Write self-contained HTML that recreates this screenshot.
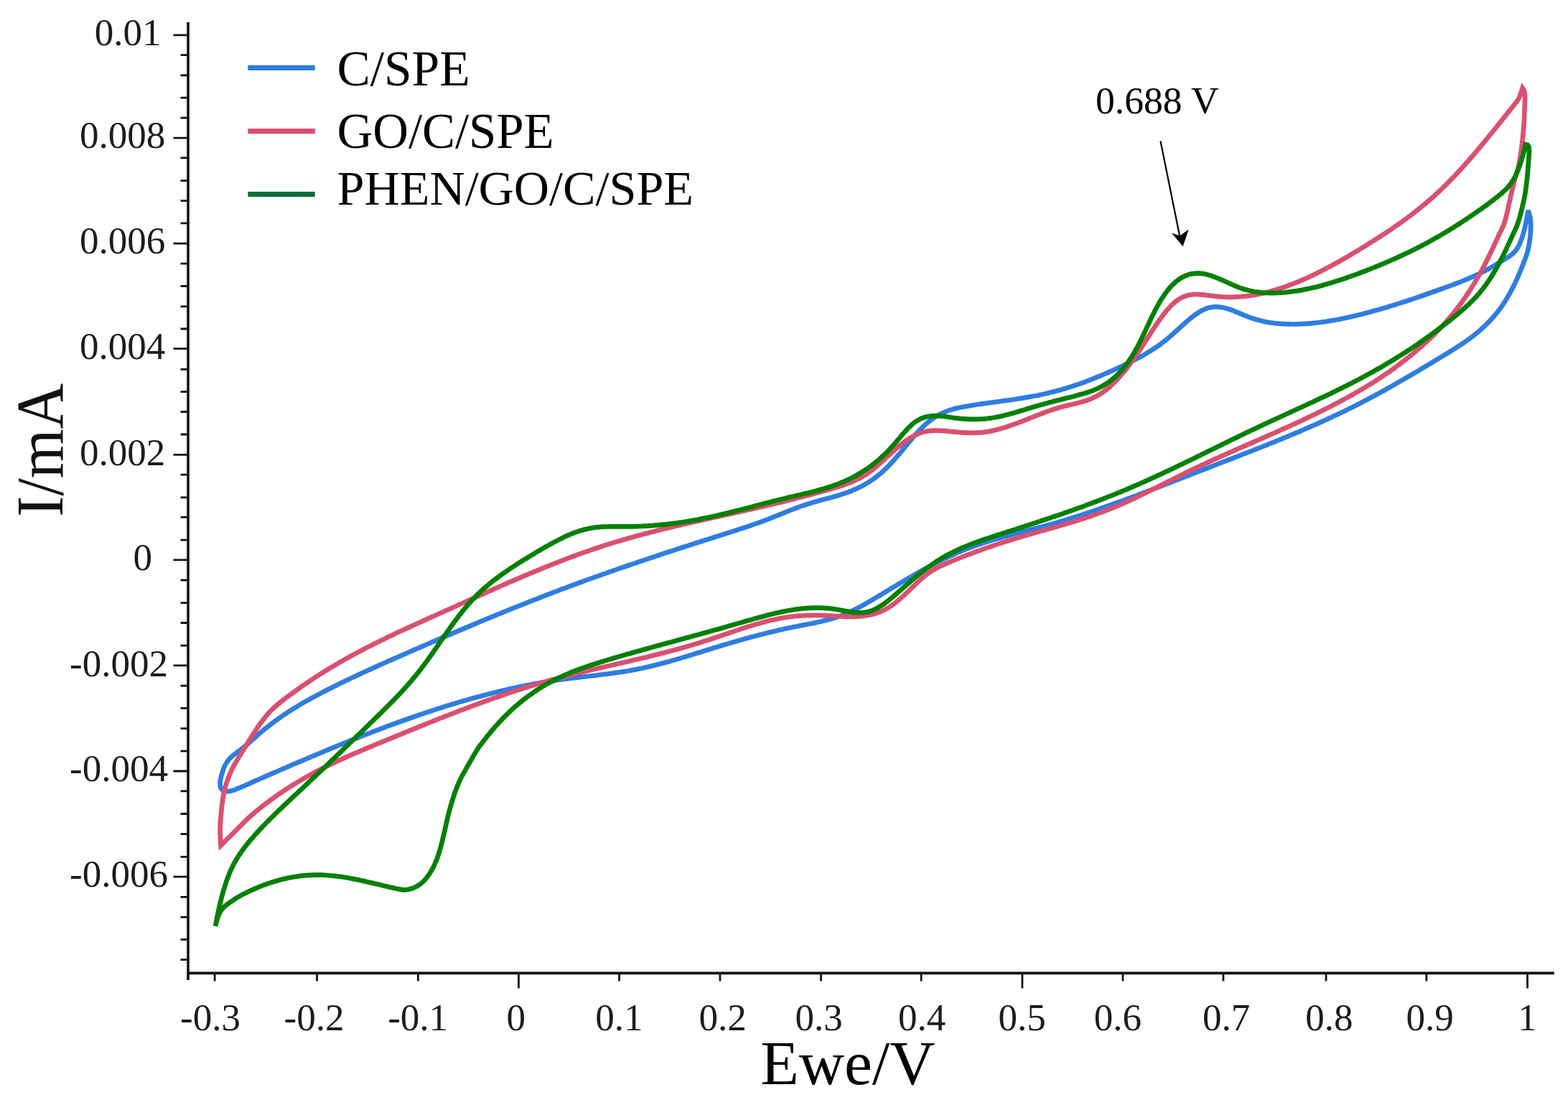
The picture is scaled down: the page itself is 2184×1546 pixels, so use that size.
<!DOCTYPE html>
<html lang="en">
<head>
<meta charset="utf-8">
<title>Cyclic voltammograms: C/SPE, GO/C/SPE, PHEN/GO/C/SPE</title>
<style>
html,body{margin:0;padding:0;background:#fff;}
body{width:2184px;height:1546px;overflow:hidden;}
svg{display:block;filter:blur(0.7px);}
</style>
</head>
<body>
<svg xmlns="http://www.w3.org/2000/svg" width="2184" height="1546" viewBox="0 0 2184 1546">
<rect width="2184" height="1546" fill="#ffffff"/>
<path d="M2129.2,295.6L2130.1,298.5L2130.9,301.4L2131.5,304.3L2131.8,307.3L2132.1,310.3L2132.2,313.3L2132.1,316.3L2132.0,319.3L2131.9,322.3L2131.7,325.3L2131.4,328.2L2131.1,331.2L2130.7,334.2L2130.3,337.2L2129.8,340.1L2129.3,343.1L2128.7,346.0L2128.1,349.0L2127.3,351.8L2126.4,354.7L2125.4,357.5L2124.4,360.4L2123.3,363.2L2122.2,366.0L2121.2,368.8L2120.1,371.6L2118.9,374.3L2117.8,377.1L2116.7,379.9L2115.5,382.6L2114.3,385.4L2113.1,388.1L2111.8,390.9L2110.6,393.6L2109.3,396.3L2107.9,399.0L2106.6,401.7L2105.2,404.3L2103.8,407.0L2102.3,409.6L2100.8,412.2L2099.3,414.8L2097.8,417.3L2096.2,419.9L2094.5,422.4L2092.9,424.9L2091.2,427.4L2089.4,429.8L2087.6,432.2L2085.8,434.6L2083.9,436.9L2082.0,439.2L2080.0,441.5L2078.0,443.7L2076.0,445.9L2073.9,448.1L2071.8,450.3L2069.7,452.4L2067.5,454.4L2065.3,456.5L2063.1,458.5L2060.9,460.5L2058.6,462.4L2056.3,464.3L2053.9,466.2L2051.6,468.1L2049.2,469.9L2046.8,471.7L2044.3,473.4L2041.9,475.2L2039.4,476.9L2036.9,478.6L2034.4,480.2L2031.9,481.9L2029.4,483.5L2026.9,485.1L2024.4,486.7L2021.8,488.3L2019.3,489.9L2016.7,491.5L2014.1,493.0L2011.6,494.6L2009.0,496.2L2006.5,497.7L2003.9,499.3L2001.3,500.8L1998.8,502.4L1996.2,503.9L1993.6,505.5L1991.0,507.0L1988.5,508.6L1985.9,510.1L1983.3,511.7L1980.8,513.2L1978.2,514.7L1975.6,516.3L1973.0,517.8L1970.4,519.3L1967.9,520.9L1965.3,522.4L1962.7,523.9L1960.1,525.4L1957.5,526.9L1954.9,528.4L1952.3,529.9L1949.7,531.4L1947.1,532.9L1944.5,534.4L1941.9,535.9L1939.3,537.4L1936.7,538.9L1934.1,540.3L1931.4,541.8L1928.8,543.3L1926.2,544.7L1923.6,546.2L1920.9,547.6L1918.3,549.0L1915.7,550.5L1913.0,551.9L1910.4,553.3L1907.7,554.7L1905.1,556.1L1902.4,557.5L1899.8,558.9L1897.1,560.3L1894.4,561.7L1891.8,563.0L1889.1,564.4L1886.4,565.7L1883.7,567.1L1881.0,568.4L1878.3,569.7L1875.6,571.1L1872.9,572.4L1870.2,573.7L1867.5,575.0L1864.8,576.3L1862.1,577.6L1859.4,578.8L1856.7,580.1L1854.0,581.4L1851.3,582.6L1848.5,583.9L1845.8,585.2L1843.1,586.4L1840.3,587.6L1837.6,588.9L1834.9,590.1L1832.1,591.3L1829.4,592.5L1826.6,593.7L1823.9,594.9L1821.1,596.1L1818.4,597.3L1815.6,598.5L1812.9,599.7L1810.1,600.9L1807.3,602.1L1804.6,603.2L1801.8,604.4L1799.1,605.5L1796.3,606.7L1793.5,607.8L1790.7,609.0L1788.0,610.1L1785.2,611.3L1782.4,612.4L1779.6,613.5L1776.9,614.7L1774.1,615.8L1771.3,616.9L1768.5,618.0L1765.7,619.2L1762.9,620.3L1760.1,621.4L1757.4,622.5L1754.6,623.6L1751.8,624.7L1749.0,625.8L1746.2,626.9L1743.4,628.0L1740.6,629.1L1737.8,630.2L1735.0,631.3L1732.2,632.4L1729.4,633.4L1726.6,634.5L1723.8,635.6L1721.0,636.7L1718.2,637.8L1715.4,638.9L1712.6,640.0L1709.8,641.0L1707.0,642.1L1704.2,643.2L1701.4,644.3L1698.6,645.4L1695.8,646.4L1693.0,647.5L1690.3,648.6L1687.5,649.7L1684.7,650.8L1681.9,651.9L1679.1,653.0L1676.3,654.0L1673.5,655.1L1670.7,656.2L1667.9,657.3L1665.1,658.4L1662.3,659.5L1659.5,660.6L1656.7,661.7L1653.9,662.8L1651.1,663.9L1648.3,664.9L1645.5,666.0L1642.7,667.1L1639.9,668.2L1637.1,669.3L1634.3,670.4L1631.5,671.5L1628.7,672.6L1625.9,673.7L1623.1,674.7L1620.3,675.8L1617.6,676.9L1614.8,678.0L1612.0,679.1L1609.2,680.2L1606.4,681.2L1603.6,682.3L1600.7,683.4L1597.9,684.4L1595.1,685.5L1592.3,686.6L1589.5,687.6L1586.7,688.7L1583.9,689.8L1581.1,690.8L1578.3,691.9L1575.5,692.9L1572.7,694.0L1569.9,695.0L1567.0,696.1L1564.2,697.1L1561.4,698.1L1558.6,699.1L1555.8,700.2L1553.0,701.2L1550.1,702.2L1547.3,703.2L1544.5,704.2L1541.7,705.2L1538.8,706.2L1536.0,707.2L1533.2,708.2L1530.3,709.2L1527.5,710.2L1524.6,711.1L1521.8,712.1L1519.0,713.1L1516.1,714.0L1513.3,715.0L1510.4,715.9L1507.6,716.8L1504.7,717.8L1501.9,718.7L1499.0,719.6L1496.1,720.5L1493.3,721.4L1490.4,722.3L1487.6,723.2L1484.7,724.1L1481.8,725.0L1478.9,725.8L1476.1,726.7L1473.2,727.5L1470.3,728.4L1467.4,729.2L1464.5,730.0L1461.7,730.8L1458.8,731.6L1455.9,732.4L1453.0,733.2L1450.1,734.0L1447.2,734.8L1444.3,735.6L1441.4,736.3L1438.5,737.1L1435.6,737.8L1432.7,738.6L1429.8,739.3L1426.9,740.1L1423.9,740.8L1421.0,741.6L1418.1,742.3L1415.2,743.1L1412.3,743.9L1409.4,744.6L1406.5,745.4L1403.6,746.2L1400.7,747.0L1397.8,747.7L1395.0,748.6L1392.1,749.4L1389.2,750.2L1386.3,751.0L1383.4,751.9L1380.5,752.7L1377.7,753.6L1374.8,754.5L1372.0,755.4L1369.1,756.3L1366.3,757.3L1363.4,758.3L1360.6,759.2L1357.7,760.2L1354.9,761.3L1352.1,762.3L1349.3,763.4L1346.5,764.4L1343.7,765.5L1340.9,766.7L1338.2,767.8L1335.4,769.0L1332.6,770.2L1329.9,771.4L1327.2,772.6L1324.4,773.9L1321.7,775.1L1319.0,776.4L1316.3,777.7L1313.6,779.1L1310.9,780.4L1308.2,781.7L1305.6,783.1L1302.9,784.5L1300.2,785.9L1297.6,787.3L1294.9,788.7L1292.3,790.1L1289.7,791.5L1287.0,793.0L1284.4,794.4L1281.8,795.9L1279.2,797.4L1276.6,798.9L1274.0,800.3L1271.4,801.8L1268.8,803.3L1266.2,804.9L1263.6,806.4L1261.0,807.9L1258.4,809.4L1255.8,810.9L1253.3,812.5L1250.7,814.0L1248.1,815.6L1245.5,817.1L1243.0,818.6L1240.4,820.2L1237.8,821.7L1235.3,823.3L1232.7,824.8L1230.1,826.4L1227.6,828.0L1225.0,829.5L1222.4,831.1L1219.8,832.6L1217.3,834.1L1214.7,835.7L1212.1,837.2L1209.5,838.7L1206.9,840.2L1204.3,841.7L1201.7,843.1L1199.0,844.6L1196.4,846.0L1193.7,847.4L1191.1,848.7L1188.4,850.1L1185.7,851.4L1183.0,852.6L1180.2,853.9L1177.5,855.0L1174.7,856.2L1171.9,857.3L1169.1,858.3L1166.2,859.3L1163.4,860.2L1160.5,861.1L1157.7,862.0L1154.8,862.8L1151.9,863.6L1149.0,864.3L1146.0,865.0L1143.1,865.7L1140.2,866.3L1137.3,867.0L1134.3,867.6L1131.4,868.2L1128.4,868.7L1125.5,869.3L1122.5,869.9L1119.6,870.4L1116.6,871.0L1113.7,871.6L1110.8,872.2L1107.8,872.7L1104.9,873.3L1101.9,873.9L1099.0,874.6L1096.1,875.2L1093.1,875.8L1090.2,876.5L1087.3,877.1L1084.3,877.8L1081.4,878.5L1078.5,879.2L1075.6,879.9L1072.7,880.6L1069.8,881.3L1066.8,882.0L1063.9,882.7L1061.0,883.5L1058.1,884.2L1055.2,885.0L1052.3,885.7L1049.4,886.5L1046.5,887.3L1043.6,888.1L1040.7,888.9L1037.8,889.6L1034.9,890.5L1032.0,891.3L1029.2,892.1L1026.3,892.9L1023.4,893.7L1020.5,894.6L1017.6,895.4L1014.8,896.3L1011.9,897.1L1009.0,898.0L1006.1,898.8L1003.3,899.7L1000.4,900.6L997.5,901.5L994.6,902.3L991.8,903.2L988.9,904.1L986.0,905.0L983.2,905.9L980.3,906.8L977.5,907.7L974.6,908.6L971.7,909.4L968.9,910.3L966.0,911.2L963.1,912.1L960.3,913.0L957.4,913.9L954.5,914.7L951.6,915.6L948.8,916.4L945.9,917.3L943.0,918.1L940.1,919.0L937.2,919.8L934.4,920.6L931.5,921.4L928.6,922.2L925.7,923.0L922.8,923.8L919.9,924.6L917.0,925.3L914.1,926.1L911.2,926.8L908.2,927.5L905.3,928.2L902.4,928.9L899.5,929.5L896.5,930.2L893.6,930.8L890.7,931.4L887.7,932.0L884.8,932.6L881.8,933.1L878.9,933.6L875.9,934.2L873.0,934.7L870.0,935.1L867.0,935.6L864.1,936.1L861.1,936.5L858.1,936.9L855.2,937.4L852.2,937.8L849.2,938.2L846.2,938.6L843.3,938.9L840.3,939.3L837.3,939.7L834.3,940.0L831.4,940.4L828.4,940.8L825.4,941.1L822.4,941.5L819.4,941.8L816.5,942.2L813.5,942.5L810.5,942.9L807.5,943.2L804.5,943.6L801.6,943.9L798.6,944.3L795.6,944.7L792.6,945.0L789.6,945.4L786.7,945.8L783.7,946.2L780.7,946.6L777.8,947.0L774.8,947.5L771.8,947.9L768.9,948.4L765.9,948.8L762.9,949.3L760.0,949.8L757.0,950.3L754.0,950.8L751.1,951.3L748.1,951.8L745.2,952.4L742.2,952.9L739.3,953.5L736.3,954.1L733.4,954.6L730.5,955.2L727.5,955.8L724.6,956.4L721.6,957.0L718.7,957.7L715.8,958.3L712.8,958.9L709.9,959.6L707.0,960.3L704.1,960.9L701.1,961.6L698.2,962.3L695.3,963.0L692.4,963.7L689.5,964.4L686.6,965.1L683.7,965.9L680.7,966.6L677.8,967.4L674.9,968.1L672.0,968.9L669.1,969.7L666.2,970.4L663.3,971.2L660.4,972.0L657.6,972.8L654.7,973.6L651.8,974.4L648.9,975.3L646.0,976.1L643.1,976.9L640.3,977.8L637.4,978.6L634.5,979.5L631.6,980.4L628.8,981.2L625.9,982.1L623.0,983.0L620.2,983.9L617.3,984.8L614.4,985.7L611.6,986.6L608.7,987.5L605.9,988.4L603.0,989.4L600.2,990.3L597.3,991.3L594.5,992.2L591.6,993.2L588.8,994.1L585.9,995.1L583.1,996.0L580.3,997.0L577.4,998.0L574.6,999.0L571.8,1000.0L568.9,1001.0L566.1,1002.0L563.3,1003.0L560.4,1004.0L557.6,1005.0L554.8,1006.0L552.0,1007.0L549.2,1008.1L546.3,1009.1L543.5,1010.1L540.7,1011.2L537.9,1012.2L535.1,1013.3L532.3,1014.3L529.5,1015.4L526.7,1016.5L523.9,1017.5L521.1,1018.6L518.3,1019.7L515.5,1020.8L512.7,1021.8L509.9,1022.9L507.1,1024.0L504.3,1025.1L501.5,1026.2L498.7,1027.3L495.9,1028.4L493.1,1029.5L490.3,1030.6L487.5,1031.7L484.8,1032.9L482.0,1034.0L479.2,1035.1L476.4,1036.2L473.6,1037.4L470.8,1038.5L468.1,1039.6L465.3,1040.8L462.5,1041.9L459.7,1043.1L457.0,1044.2L454.2,1045.4L451.4,1046.5L448.7,1047.7L445.9,1048.8L443.1,1050.0L440.4,1051.1L437.6,1052.3L434.8,1053.5L432.1,1054.6L429.3,1055.8L426.5,1057.0L423.8,1058.1L421.0,1059.3L418.3,1060.5L415.5,1061.7L412.7,1062.8L410.0,1064.0L407.2,1065.2L404.5,1066.4L401.7,1067.6L399.0,1068.8L396.2,1070.0L393.4,1071.2L390.7,1072.3L387.9,1073.5L385.2,1074.7L382.4,1075.9L379.7,1077.1L376.9,1078.3L374.2,1079.5L371.4,1080.7L368.7,1081.9L365.9,1083.1L363.2,1084.3L360.4,1085.5L357.7,1086.7L354.9,1087.9L352.2,1089.1L349.4,1090.4L346.7,1091.6L343.9,1092.8L341.2,1094.0L338.5,1095.2L335.7,1096.4L332.9,1097.6L330.2,1098.7L327.4,1099.8L324.5,1100.8L321.7,1101.6L318.8,1102.2L315.9,1102.4L313.1,1102.1L310.6,1100.9L308.7,1099.1L307.4,1096.7L306.7,1093.9L306.5,1091.0L306.7,1088.0L307.2,1085.1L307.9,1082.2L308.6,1079.3L309.5,1076.4L310.4,1073.5L311.4,1070.7L312.5,1067.9L313.8,1065.3L315.3,1062.7L317.0,1060.2L318.8,1057.8L320.8,1055.7L323.0,1053.6L325.3,1051.7L327.7,1049.9L330.1,1048.0L332.4,1046.2L334.8,1044.4L337.2,1042.6L339.6,1040.7L341.9,1038.9L344.2,1036.9L346.5,1034.9L348.7,1032.9L350.9,1030.9L353.1,1028.9L355.3,1026.9L357.6,1024.9L359.9,1022.9L362.1,1021.0L364.4,1019.0L366.7,1017.1L369.1,1015.2L371.4,1013.3L373.7,1011.5L376.1,1009.6L378.5,1007.8L380.9,1006.0L383.3,1004.2L385.7,1002.4L388.2,1000.7L390.6,999.0L393.1,997.3L395.6,995.6L398.1,993.9L400.6,992.3L403.1,990.6L405.6,989.0L408.2,987.4L410.7,985.8L413.3,984.3L415.9,982.7L418.4,981.2L421.0,979.7L423.6,978.2L426.2,976.7L428.8,975.2L431.5,973.8L434.1,972.3L436.7,970.9L439.4,969.5L442.0,968.1L444.7,966.7L447.3,965.3L450.0,963.9L452.7,962.5L455.3,961.1L458.0,959.8L460.7,958.4L463.4,957.1L466.1,955.7L468.7,954.4L471.4,953.1L474.1,951.8L476.8,950.4L479.5,949.1L482.2,947.8L484.9,946.5L487.6,945.2L490.3,944.0L493.1,942.7L495.8,941.4L498.5,940.1L501.2,938.9L503.9,937.6L506.7,936.3L509.4,935.1L512.1,933.8L514.8,932.6L517.6,931.4L520.3,930.1L523.0,928.9L525.8,927.6L528.5,926.4L531.3,925.2L534.0,924.0L536.7,922.8L539.5,921.5L542.2,920.3L545.0,919.1L547.7,917.9L550.5,916.7L553.2,915.5L556.0,914.3L558.7,913.1L561.5,911.9L564.2,910.7L567.0,909.5L569.7,908.3L572.5,907.1L575.2,905.9L578.0,904.7L580.7,903.5L583.5,902.3L586.2,901.1L589.0,899.9L591.7,898.7L594.5,897.5L597.2,896.3L600.0,895.1L602.7,893.9L605.5,892.8L608.2,891.6L611.0,890.4L613.8,889.2L616.5,888.0L619.3,886.8L622.0,885.7L624.8,884.5L627.6,883.3L630.3,882.1L633.1,880.9L635.8,879.8L638.6,878.6L641.4,877.4L644.1,876.3L646.9,875.1L649.7,873.9L652.4,872.8L655.2,871.6L658.0,870.4L660.7,869.3L663.5,868.1L666.3,867.0L669.0,865.8L671.8,864.7L674.6,863.5L677.3,862.4L680.1,861.2L682.9,860.1L685.7,858.9L688.4,857.8L691.2,856.7L694.0,855.5L696.8,854.4L699.6,853.3L702.3,852.1L705.1,851.0L707.9,849.9L710.7,848.7L713.5,847.6L716.2,846.5L719.0,845.4L721.8,844.3L724.6,843.2L727.4,842.1L730.2,840.9L733.0,839.8L735.8,838.7L738.5,837.6L741.3,836.5L744.1,835.4L746.9,834.3L749.7,833.3L752.5,832.2L755.3,831.1L758.1,830.0L760.9,828.9L763.7,827.8L766.5,826.8L769.3,825.7L772.1,824.6L774.9,823.6L777.7,822.5L780.5,821.4L783.3,820.4L786.2,819.3L789.0,818.3L791.8,817.2L794.6,816.2L797.4,815.1L800.2,814.1L803.0,813.1L805.8,812.0L808.7,811.0L811.5,810.0L814.3,808.9L817.1,807.9L819.9,806.9L822.8,805.9L825.6,804.9L828.4,803.9L831.2,802.8L834.1,801.8L836.9,800.8L839.7,799.8L842.6,798.8L845.4,797.8L848.2,796.8L851.1,795.9L853.9,794.9L856.7,793.9L859.6,792.9L862.4,791.9L865.2,790.9L868.1,790.0L870.9,789.0L873.7,788.0L876.6,787.0L879.4,786.1L882.3,785.1L885.1,784.1L887.9,783.2L890.8,782.2L893.6,781.3L896.5,780.3L899.3,779.4L902.2,778.4L905.0,777.4L907.9,776.5L910.7,775.6L913.5,774.6L916.4,773.7L919.2,772.7L922.1,771.8L924.9,770.8L927.8,769.9L930.6,769.0L933.5,768.0L936.3,767.1L939.2,766.2L942.1,765.2L944.9,764.3L947.8,763.4L950.6,762.5L953.5,761.5L956.3,760.6L959.2,759.7L962.0,758.8L964.9,757.9L967.7,756.9L970.6,756.0L973.5,755.1L976.3,754.2L979.2,753.3L982.0,752.4L984.9,751.5L987.8,750.5L990.6,749.6L993.5,748.7L996.3,747.8L999.2,746.9L1002.1,746.0L1004.9,745.1L1007.8,744.2L1010.6,743.3L1013.5,742.4L1016.4,741.5L1019.2,740.6L1022.1,739.6L1024.9,738.7L1027.8,737.8L1030.6,736.9L1033.5,736.0L1036.3,735.0L1039.2,734.1L1042.0,733.1L1044.9,732.2L1047.7,731.2L1050.6,730.2L1053.4,729.2L1056.2,728.2L1059.0,727.2L1061.8,726.1L1064.7,725.1L1067.5,724.0L1070.3,722.9L1073.1,721.9L1075.8,720.8L1078.6,719.6L1081.4,718.5L1084.2,717.4L1087.0,716.3L1089.8,715.2L1092.5,714.0L1095.3,712.9L1098.1,711.8L1100.9,710.7L1103.7,709.6L1106.5,708.5L1109.3,707.5L1112.1,706.4L1115.0,705.4L1117.8,704.4L1120.6,703.5L1123.5,702.5L1126.3,701.6L1129.2,700.7L1132.1,699.9L1135.0,699.0L1137.8,698.2L1140.7,697.4L1143.6,696.6L1146.5,695.8L1149.4,695.1L1152.3,694.3L1155.2,693.5L1158.1,692.7L1161.0,691.9L1163.9,691.1L1166.8,690.2L1169.6,689.4L1172.5,688.5L1175.3,687.5L1178.2,686.6L1181.0,685.5L1183.8,684.5L1186.6,683.4L1189.4,682.2L1192.1,681.0L1194.9,679.8L1197.6,678.5L1200.2,677.1L1202.9,675.7L1205.5,674.2L1208.1,672.7L1210.6,671.1L1213.1,669.5L1215.6,667.8L1218.0,666.1L1220.4,664.3L1222.8,662.4L1225.1,660.5L1227.4,658.6L1229.7,656.6L1231.9,654.6L1234.0,652.5L1236.2,650.4L1238.3,648.2L1240.3,646.1L1242.4,643.9L1244.4,641.6L1246.4,639.4L1248.3,637.1L1250.3,634.8L1252.2,632.6L1254.2,630.3L1256.1,628.0L1258.0,625.6L1259.9,623.3L1261.8,621.0L1263.8,618.7L1265.7,616.4L1267.6,614.1L1269.5,611.8L1271.5,609.5L1273.5,607.3L1275.5,605.0L1277.5,602.8L1279.5,600.6L1281.6,598.4L1283.7,596.3L1285.8,594.2L1288.0,592.1L1290.2,590.1L1292.5,588.1L1294.8,586.3L1297.2,584.4L1299.6,582.7L1302.1,581.1L1304.7,579.5L1307.3,578.0L1309.9,576.6L1312.6,575.3L1315.4,574.1L1318.2,573.0L1321.0,571.9L1323.8,571.0L1326.7,570.1L1329.6,569.3L1332.5,568.6L1335.4,567.9L1338.3,567.3L1341.3,566.7L1344.2,566.2L1347.2,565.7L1350.2,565.2L1353.1,564.7L1356.1,564.2L1359.0,563.8L1362.0,563.3L1365.0,562.9L1368.0,562.4L1370.9,562.0L1373.9,561.6L1376.9,561.2L1379.8,560.8L1382.8,560.4L1385.8,560.0L1388.8,559.6L1391.7,559.2L1394.7,558.8L1397.7,558.3L1400.6,557.9L1403.6,557.5L1406.6,557.1L1409.6,556.7L1412.5,556.2L1415.5,555.8L1418.5,555.3L1421.4,554.9L1424.4,554.4L1427.3,553.9L1430.3,553.4L1433.3,552.9L1436.2,552.4L1439.2,551.8L1442.1,551.3L1445.1,550.7L1448.0,550.1L1450.9,549.5L1453.9,548.8L1456.8,548.2L1459.7,547.5L1462.6,546.8L1465.5,546.1L1468.5,545.3L1471.4,544.6L1474.2,543.8L1477.1,543.0L1480.0,542.1L1482.9,541.3L1485.8,540.4L1488.6,539.5L1491.5,538.6L1494.4,537.7L1497.2,536.8L1500.0,535.8L1502.9,534.8L1505.7,533.8L1508.5,532.8L1511.3,531.8L1514.2,530.7L1517.0,529.7L1519.8,528.6L1522.6,527.5L1525.3,526.4L1528.1,525.2L1530.9,524.1L1533.7,523.0L1536.4,521.8L1539.2,520.6L1541.9,519.4L1544.7,518.2L1547.4,517.0L1550.2,515.8L1552.9,514.5L1555.6,513.3L1558.3,512.0L1561.1,510.7L1563.8,509.4L1566.5,508.1L1569.2,506.8L1571.9,505.5L1574.5,504.1L1577.2,502.8L1579.9,501.4L1582.6,500.0L1585.2,498.6L1587.9,497.2L1590.5,495.8L1593.1,494.3L1595.7,492.8L1598.3,491.3L1600.8,489.7L1603.4,488.1L1605.9,486.5L1608.4,484.9L1610.9,483.2L1613.4,481.5L1615.8,479.7L1618.2,477.9L1620.6,476.1L1623.0,474.3L1625.3,472.4L1627.6,470.5L1629.9,468.5L1632.2,466.6L1634.4,464.6L1636.6,462.6L1638.9,460.5L1641.1,458.5L1643.3,456.5L1645.5,454.5L1647.7,452.5L1650.0,450.5L1652.2,448.5L1654.5,446.5L1656.8,444.6L1659.1,442.7L1661.4,440.8L1663.8,439.0L1666.3,437.2L1668.8,435.6L1671.3,434.0L1673.9,432.5L1676.6,431.2L1679.3,430.0L1682.2,429.0L1685.0,428.3L1688.0,427.7L1690.9,427.4L1693.9,427.3L1696.9,427.4L1699.9,427.7L1702.8,428.2L1705.8,428.9L1708.6,429.7L1711.5,430.5L1714.4,431.5L1717.2,432.5L1720.0,433.6L1722.7,434.8L1725.5,435.9L1728.3,437.1L1731.0,438.2L1733.8,439.4L1736.6,440.5L1739.4,441.6L1742.2,442.6L1745.1,443.6L1747.9,444.5L1750.8,445.3L1753.7,446.1L1756.6,446.8L1759.5,447.5L1762.5,448.1L1765.4,448.7L1768.4,449.2L1771.3,449.6L1774.3,450.0L1777.3,450.3L1780.3,450.6L1783.3,450.9L1786.3,451.1L1789.3,451.2L1792.3,451.3L1795.3,451.4L1798.3,451.5L1801.3,451.5L1804.3,451.5L1807.2,451.4L1810.2,451.3L1813.2,451.2L1816.2,451.0L1819.2,450.8L1822.2,450.6L1825.2,450.4L1828.2,450.1L1831.2,449.8L1834.2,449.5L1837.2,449.2L1840.1,448.8L1843.1,448.4L1846.1,448.0L1849.0,447.5L1852.0,447.0L1855.0,446.5L1857.9,446.0L1860.9,445.5L1863.8,445.0L1866.8,444.4L1869.7,443.8L1872.7,443.2L1875.6,442.6L1878.5,441.9L1881.4,441.3L1884.4,440.6L1887.3,439.9L1890.2,439.2L1893.1,438.5L1896.0,437.8L1898.9,437.0L1901.8,436.3L1904.7,435.5L1907.6,434.7L1910.5,433.9L1913.4,433.1L1916.3,432.3L1919.2,431.5L1922.1,430.7L1925.0,429.9L1927.9,429.0L1930.7,428.2L1933.6,427.3L1936.5,426.4L1939.3,425.5L1942.2,424.7L1945.1,423.8L1947.9,422.9L1950.8,421.9L1953.7,421.0L1956.5,420.1L1959.4,419.2L1962.2,418.2L1965.1,417.3L1967.9,416.3L1970.7,415.4L1973.6,414.4L1976.4,413.5L1979.3,412.5L1982.1,411.5L1984.9,410.5L1987.8,409.5L1990.6,408.5L1993.4,407.5L1996.3,406.5L1999.1,405.5L2001.9,404.5L2004.7,403.5L2007.6,402.5L2010.4,401.5L2013.2,400.4L2016.0,399.4L2018.8,398.4L2021.6,397.3L2024.5,396.3L2027.3,395.2L2030.1,394.1L2032.9,393.1L2035.7,392.0L2038.4,390.9L2041.2,389.7L2044.0,388.6L2046.8,387.4L2049.5,386.2L2052.2,385.0L2055.0,383.7L2057.7,382.5L2060.4,381.2L2063.1,379.8L2065.8,378.5L2068.4,377.1L2071.1,375.7L2073.7,374.3L2076.3,372.8L2078.9,371.3L2081.5,369.8L2084.1,368.3L2086.7,366.7L2089.2,365.1L2091.8,363.6L2094.3,362.0L2096.9,360.4L2099.4,358.8L2101.9,357.2L2104.4,355.4L2106.7,353.6L2108.9,351.5L2110.9,349.3L2112.7,346.9L2114.3,344.4L2115.7,341.8L2116.9,339.1L2118.1,336.3L2119.1,333.5L2120.1,330.7L2121.0,327.8L2121.8,324.9L2122.6,322.0L2123.4,319.1L2124.1,316.2L2124.8,313.3L2125.4,310.4L2126.0,307.4L2126.6,304.5L2127.2,301.5L2127.8,298.6L2128.2,295.6Z" fill="none" stroke="#2f7de1" stroke-width="6.7" stroke-linejoin="miter" stroke-miterlimit="4" stroke-linecap="butt"/>
<path d="M307.6,1177.5L307.4,1174.5L307.2,1171.5L307.0,1168.5L306.9,1165.5L306.7,1162.5L306.7,1159.5L306.6,1156.5L306.6,1153.5L306.7,1150.5L306.8,1147.5L307.0,1144.5L307.2,1141.6L307.5,1138.6L307.7,1135.6L308.0,1132.6L308.3,1129.6L308.6,1126.6L308.9,1123.6L309.3,1120.7L309.7,1117.7L310.1,1114.7L310.5,1111.8L311.0,1108.8L311.6,1105.8L312.2,1102.9L312.9,1100.0L313.6,1097.1L314.4,1094.2L315.3,1091.3L316.2,1088.5L317.2,1085.6L318.2,1082.8L319.3,1080.0L320.4,1077.3L321.7,1074.5L322.9,1071.8L324.3,1069.1L325.7,1066.5L327.2,1063.9L328.7,1061.3L330.3,1058.7L331.8,1056.2L333.4,1053.6L334.9,1051.0L336.5,1048.5L338.1,1045.9L339.6,1043.4L341.2,1040.8L342.8,1038.3L344.3,1035.7L345.9,1033.1L347.5,1030.6L349.1,1028.0L350.7,1025.5L352.3,1023.0L353.9,1020.5L355.6,1018.0L357.3,1015.5L358.9,1013.0L360.6,1010.5L362.4,1008.1L364.2,1005.7L366.0,1003.3L367.8,1000.9L369.7,998.5L371.6,996.2L373.5,993.9L375.5,991.7L377.6,989.5L379.7,987.4L381.9,985.4L384.2,983.4L386.4,981.5L388.7,979.6L391.1,977.7L393.4,975.8L395.8,974.0L398.2,972.1L400.6,970.3L403.0,968.5L405.4,966.8L407.8,965.0L410.2,963.2L412.7,961.5L415.1,959.7L417.6,958.0L420.0,956.3L422.5,954.6L425.0,952.9L427.4,951.2L429.9,949.5L432.4,947.8L434.9,946.2L437.4,944.5L439.9,942.9L442.5,941.3L445.0,939.6L447.5,938.0L450.1,936.4L452.6,934.9L455.2,933.3L457.7,931.7L460.3,930.2L462.9,928.6L465.4,927.1L468.0,925.6L470.6,924.1L473.2,922.5L475.8,921.1L478.4,919.6L481.0,918.1L483.6,916.6L486.3,915.2L488.9,913.7L491.5,912.3L494.1,910.9L496.8,909.4L499.4,908.0L502.1,906.6L504.7,905.2L507.4,903.8L510.1,902.4L512.7,901.1L515.4,899.7L518.1,898.4L520.8,897.0L523.4,895.7L526.1,894.3L528.8,893.0L531.5,891.7L534.2,890.4L536.9,889.0L539.6,887.7L542.3,886.4L545.0,885.2L547.7,883.9L550.4,882.6L553.1,881.3L555.9,880.0L558.6,878.8L561.3,877.5L564.0,876.2L566.7,875.0L569.5,873.7L572.2,872.5L574.9,871.2L577.7,870.0L580.4,868.8L583.1,867.5L585.9,866.3L588.6,865.1L591.3,863.8L594.1,862.6L596.8,861.4L599.5,860.1L602.3,858.9L605.0,857.7L607.7,856.5L610.5,855.2L613.2,854.0L616.0,852.8L618.7,851.5L621.4,850.3L624.2,849.1L626.9,847.9L629.6,846.6L632.4,845.4L635.1,844.2L637.8,842.9L640.6,841.7L643.3,840.5L646.1,839.2L648.8,838.0L651.5,836.8L654.3,835.6L657.0,834.3L659.7,833.1L662.5,831.9L665.2,830.6L667.9,829.4L670.7,828.2L673.4,827.0L676.2,825.7L678.9,824.5L681.6,823.3L684.4,822.1L687.1,820.9L689.9,819.7L692.6,818.4L695.4,817.2L698.1,816.0L700.8,814.8L703.6,813.6L706.3,812.4L709.1,811.2L711.8,810.0L714.6,808.8L717.3,807.6L720.1,806.4L722.9,805.3L725.6,804.1L728.4,802.9L731.1,801.7L733.9,800.6L736.7,799.4L739.4,798.2L742.2,797.1L745.0,795.9L747.7,794.8L750.5,793.6L753.3,792.5L756.1,791.3L758.8,790.2L761.6,789.1L764.4,788.0L767.2,786.9L770.0,785.8L772.8,784.6L775.6,783.6L778.3,782.5L781.1,781.4L783.9,780.3L786.7,779.2L789.5,778.2L792.4,777.1L795.2,776.0L798.0,775.0L800.8,774.0L803.6,772.9L806.4,771.9L809.2,770.9L812.1,769.9L814.9,768.9L817.7,767.9L820.6,766.9L823.4,765.9L826.2,765.0L829.1,764.0L831.9,763.0L834.8,762.1L837.6,761.2L840.5,760.2L843.3,759.3L846.2,758.4L849.1,757.5L851.9,756.6L854.8,755.8L857.7,754.9L860.5,754.0L863.4,753.2L866.3,752.3L869.2,751.5L872.0,750.7L874.9,749.8L877.8,749.0L880.7,748.2L883.6,747.4L886.5,746.6L889.4,745.8L892.3,745.0L895.2,744.3L898.1,743.5L901.0,742.7L903.9,742.0L906.8,741.2L909.7,740.5L912.6,739.7L915.5,739.0L918.4,738.3L921.3,737.6L924.2,736.8L927.2,736.1L930.1,735.4L933.0,734.7L935.9,734.0L938.8,733.3L941.7,732.6L944.7,732.0L947.6,731.3L950.5,730.6L953.4,729.9L956.3,729.2L959.3,728.6L962.2,727.9L965.1,727.2L968.0,726.6L971.0,725.9L973.9,725.3L976.8,724.6L979.8,723.9L982.7,723.3L985.6,722.6L988.5,722.0L991.5,721.3L994.4,720.7L997.3,720.0L1000.3,719.4L1003.2,718.7L1006.1,718.1L1009.0,717.5L1012.0,716.8L1014.9,716.2L1017.8,715.5L1020.8,714.9L1023.7,714.2L1026.6,713.6L1029.5,712.9L1032.5,712.3L1035.4,711.6L1038.3,710.9L1041.2,710.3L1044.2,709.6L1047.1,709.0L1050.0,708.3L1052.9,707.6L1055.9,707.0L1058.8,706.3L1061.7,705.6L1064.6,704.9L1067.6,704.2L1070.5,703.6L1073.4,702.9L1076.3,702.2L1079.2,701.5L1082.1,700.8L1085.1,700.1L1088.0,699.4L1090.9,698.7L1093.8,697.9L1096.7,697.2L1099.6,696.5L1102.5,695.8L1105.4,695.0L1108.4,694.3L1111.3,693.5L1114.2,692.8L1117.1,692.0L1120.0,691.3L1122.9,690.5L1125.8,689.8L1128.7,689.0L1131.6,688.2L1134.5,687.4L1137.4,686.6L1140.3,685.8L1143.1,685.1L1146.0,684.2L1148.9,683.4L1151.8,682.6L1154.7,681.8L1157.6,681.0L1160.4,680.1L1163.3,679.3L1166.2,678.4L1169.1,677.5L1171.9,676.5L1174.7,675.6L1177.6,674.6L1180.4,673.6L1183.2,672.5L1186.0,671.3L1188.7,670.1L1191.4,668.9L1194.1,667.6L1196.8,666.2L1199.4,664.8L1202.0,663.3L1204.6,661.7L1207.1,660.1L1209.6,658.4L1212.0,656.6L1214.4,654.8L1216.7,653.0L1219.1,651.1L1221.4,649.1L1223.6,647.2L1225.9,645.2L1228.1,643.2L1230.3,641.2L1232.5,639.1L1234.7,637.1L1236.9,635.1L1239.2,633.0L1241.4,631.0L1243.6,629.0L1245.8,627.0L1248.0,625.0L1250.3,623.0L1252.6,621.1L1254.9,619.2L1257.3,617.3L1259.6,615.5L1262.1,613.7L1264.5,612.0L1267.0,610.4L1269.6,608.8L1272.2,607.4L1274.9,606.0L1277.6,604.8L1280.4,603.6L1283.2,602.6L1286.1,601.8L1289.0,601.1L1291.9,600.5L1294.9,600.1L1297.9,599.8L1300.9,599.6L1303.9,599.6L1306.9,599.7L1309.8,599.8L1312.8,600.0L1315.8,600.2L1318.8,600.5L1321.8,600.8L1324.8,601.1L1327.8,601.3L1330.8,601.6L1333.8,601.9L1336.7,602.1L1339.7,602.3L1342.7,602.5L1345.7,602.6L1348.7,602.7L1351.7,602.8L1354.7,602.8L1357.7,602.8L1360.7,602.7L1363.7,602.5L1366.7,602.3L1369.7,602.0L1372.7,601.6L1375.6,601.2L1378.6,600.7L1381.5,600.1L1384.5,599.5L1387.4,598.8L1390.3,598.0L1393.2,597.3L1396.1,596.4L1398.9,595.6L1401.8,594.7L1404.6,593.7L1407.5,592.7L1410.3,591.7L1413.1,590.7L1415.9,589.7L1418.7,588.6L1421.5,587.5L1424.3,586.5L1427.1,585.4L1429.9,584.3L1432.7,583.1L1435.5,582.0L1438.3,580.9L1441.1,579.8L1443.9,578.7L1446.7,577.6L1449.4,576.6L1452.3,575.5L1455.1,574.4L1457.9,573.4L1460.7,572.4L1463.5,571.4L1466.4,570.5L1469.2,569.5L1472.1,568.7L1475.0,567.8L1477.9,567.0L1480.8,566.2L1483.7,565.5L1486.6,564.8L1489.5,564.1L1492.4,563.4L1495.4,562.8L1498.3,562.1L1501.2,561.3L1504.1,560.6L1507.0,559.8L1509.9,558.9L1512.7,558.0L1515.5,557.0L1518.3,555.9L1521.1,554.8L1523.8,553.5L1526.5,552.2L1529.1,550.8L1531.7,549.2L1534.2,547.6L1536.7,545.9L1539.1,544.2L1541.5,542.3L1543.8,540.4L1546.0,538.4L1548.3,536.4L1550.4,534.3L1552.6,532.2L1554.6,530.1L1556.7,527.9L1558.7,525.7L1560.7,523.4L1562.7,521.1L1564.6,518.8L1566.5,516.5L1568.4,514.2L1570.2,511.8L1572.0,509.4L1573.8,507.0L1575.6,504.6L1577.4,502.2L1579.1,499.8L1580.9,497.3L1582.6,494.8L1584.3,492.4L1585.9,489.9L1587.6,487.4L1589.3,484.9L1590.9,482.4L1592.5,479.9L1594.2,477.4L1595.8,474.8L1597.4,472.3L1599.0,469.8L1600.7,467.3L1602.3,464.7L1603.9,462.2L1605.6,459.7L1607.2,457.2L1608.9,454.7L1610.5,452.2L1612.2,449.7L1613.9,447.3L1615.7,444.8L1617.4,442.4L1619.2,440.0L1621.0,437.6L1622.9,435.2L1624.7,432.9L1626.7,430.6L1628.7,428.4L1630.7,426.2L1632.8,424.1L1635.0,422.0L1637.3,420.1L1639.7,418.3L1642.2,416.6L1644.8,415.1L1647.4,413.8L1650.2,412.6L1653.0,411.7L1655.9,411.0L1658.9,410.5L1661.8,410.1L1664.8,410.0L1667.8,410.0L1670.8,410.1L1673.8,410.3L1676.8,410.6L1679.8,411.0L1682.7,411.3L1685.7,411.7L1688.7,412.1L1691.7,412.5L1694.6,412.8L1697.6,413.1L1700.6,413.4L1703.6,413.5L1706.6,413.7L1709.6,413.8L1712.6,413.8L1715.6,413.8L1718.6,413.7L1721.6,413.6L1724.6,413.4L1727.6,413.2L1730.6,413.0L1733.6,412.7L1736.5,412.4L1739.5,412.0L1742.5,411.5L1745.4,411.1L1748.4,410.6L1751.3,410.0L1754.3,409.4L1757.2,408.8L1760.1,408.2L1763.1,407.5L1766.0,406.7L1768.9,406.0L1771.8,405.2L1774.7,404.3L1777.5,403.5L1780.4,402.6L1783.2,401.7L1786.1,400.7L1788.9,399.8L1791.8,398.8L1794.6,397.7L1797.4,396.7L1800.2,395.6L1803.0,394.5L1805.8,393.4L1808.5,392.3L1811.3,391.1L1814.1,389.9L1816.8,388.7L1819.5,387.5L1822.3,386.2L1825.0,385.0L1827.7,383.7L1830.4,382.4L1833.1,381.1L1835.8,379.7L1838.5,378.4L1841.1,377.0L1843.8,375.7L1846.5,374.3L1849.1,372.9L1851.8,371.5L1854.4,370.1L1857.0,368.6L1859.7,367.2L1862.3,365.7L1864.9,364.3L1867.5,362.8L1870.1,361.3L1872.7,359.8L1875.3,358.3L1877.9,356.8L1880.5,355.3L1883.1,353.7L1885.7,352.2L1888.2,350.7L1890.8,349.1L1893.4,347.6L1895.9,346.0L1898.5,344.4L1901.1,342.9L1903.6,341.3L1906.1,339.7L1908.7,338.1L1911.2,336.5L1913.8,334.9L1916.3,333.3L1918.8,331.7L1921.4,330.1L1923.9,328.4L1926.4,326.8L1928.9,325.2L1931.4,323.5L1933.9,321.8L1936.4,320.2L1938.9,318.5L1941.3,316.8L1943.8,315.1L1946.3,313.4L1948.7,311.7L1951.2,309.9L1953.6,308.2L1956.0,306.4L1958.5,304.6L1960.9,302.9L1963.3,301.1L1965.7,299.3L1968.1,297.4L1970.4,295.6L1972.8,293.7L1975.1,291.9L1977.5,290.0L1979.8,288.1L1982.1,286.2L1984.4,284.3L1986.7,282.4L1989.0,280.4L1991.3,278.4L1993.5,276.5L1995.8,274.5L1998.0,272.5L2000.2,270.4L2002.4,268.4L2004.6,266.4L2006.8,264.3L2009.0,262.2L2011.1,260.1L2013.3,258.0L2015.4,255.9L2017.5,253.8L2019.6,251.7L2021.7,249.5L2023.8,247.4L2025.8,245.2L2027.9,243.0L2029.9,240.8L2032.0,238.6L2034.0,236.4L2036.0,234.2L2038.0,232.0L2040.0,229.7L2042.0,227.5L2044.0,225.2L2046.0,223.0L2048.0,220.7L2049.9,218.4L2051.9,216.2L2053.8,213.9L2055.8,211.6L2057.7,209.3L2059.6,207.0L2061.6,204.7L2063.5,202.4L2065.4,200.1L2067.3,197.8L2069.2,195.5L2071.1,193.2L2073.0,190.8L2074.9,188.5L2076.8,186.2L2078.7,183.9L2080.6,181.5L2082.5,179.2L2084.4,176.9L2086.2,174.5L2088.1,172.2L2090.0,169.8L2091.9,167.5L2093.7,165.2L2095.6,162.8L2097.5,160.5L2099.4,158.1L2101.2,155.8L2103.1,153.4L2105.0,151.1L2106.9,148.8L2108.7,146.4L2110.6,144.1L2112.4,141.7L2114.1,139.3L2115.6,136.7L2116.8,134.0L2117.8,131.2L2118.8,128.3L2119.7,125.4L2120.6,122.6L2122.3,125.1L2123.3,127.8L2123.8,130.8L2124.0,133.8L2124.1,136.7L2124.0,139.7L2123.9,142.7L2123.8,145.7L2123.7,148.7L2123.5,151.7L2123.4,154.7L2123.3,157.7L2123.2,160.7L2123.1,163.7L2122.9,166.7L2122.8,169.7L2122.6,172.7L2122.4,175.7L2122.1,178.7L2121.9,181.7L2121.6,184.7L2121.4,187.7L2121.1,190.7L2120.8,193.7L2120.4,196.6L2120.1,199.6L2119.7,202.6L2119.4,205.6L2119.0,208.5L2118.6,211.5L2118.2,214.5L2117.7,217.5L2117.3,220.4L2116.7,223.4L2116.2,226.3L2115.5,229.3L2114.9,232.2L2114.1,235.1L2113.3,238.0L2112.5,240.9L2111.7,243.8L2110.9,246.7L2110.1,249.6L2109.3,252.4L2108.5,255.3L2107.8,258.2L2107.0,261.1L2106.3,264.1L2105.6,267.0L2104.9,269.9L2104.2,272.8L2103.6,275.8L2103.0,278.7L2102.3,281.6L2101.7,284.6L2101.1,287.5L2100.5,290.4L2099.8,293.4L2099.2,296.3L2098.5,299.2L2097.8,302.1L2097.1,305.0L2096.2,307.9L2095.3,310.8L2094.2,313.6L2093.0,316.3L2091.7,319.0L2090.4,321.7L2089.1,324.4L2087.8,327.1L2086.6,329.8L2085.3,332.6L2084.1,335.3L2082.8,338.0L2081.5,340.7L2080.3,343.5L2079.0,346.2L2077.7,348.9L2076.4,351.6L2075.1,354.3L2073.8,357.0L2072.5,359.7L2071.2,362.4L2069.8,365.1L2068.4,367.8L2067.1,370.4L2065.7,373.1L2064.3,375.7L2062.8,378.4L2061.4,381.0L2059.9,383.6L2058.4,386.2L2056.9,388.8L2055.4,391.4L2053.9,394.0L2052.3,396.5L2050.7,399.1L2049.1,401.6L2047.5,404.2L2045.9,406.7L2044.2,409.2L2042.6,411.7L2040.9,414.1L2039.1,416.6L2037.4,419.1L2035.7,421.5L2033.9,423.9L2032.1,426.3L2030.3,428.7L2028.5,431.1L2026.6,433.5L2024.7,435.8L2022.8,438.1L2020.9,440.5L2019.0,442.7L2017.0,445.0L2015.1,447.3L2013.1,449.5L2011.1,451.8L2009.0,454.0L2007.0,456.2L2004.9,458.3L2002.8,460.5L2000.7,462.6L1998.6,464.8L1996.5,466.9L1994.3,469.0L1992.2,471.0L1990.0,473.1L1987.8,475.2L1985.6,477.2L1983.4,479.2L1981.1,481.2L1978.9,483.2L1976.6,485.2L1974.4,487.2L1972.1,489.1L1969.8,491.1L1967.5,493.0L1965.2,494.9L1962.9,496.8L1960.5,498.7L1958.2,500.5L1955.8,502.4L1953.4,504.2L1951.1,506.0L1948.7,507.9L1946.3,509.6L1943.8,511.4L1941.4,513.2L1939.0,514.9L1936.5,516.7L1934.1,518.4L1931.6,520.1L1929.1,521.8L1926.6,523.5L1924.1,525.1L1921.6,526.8L1919.1,528.4L1916.6,530.1L1914.1,531.7L1911.5,533.3L1909.0,534.9L1906.4,536.4L1903.9,538.0L1901.3,539.5L1898.7,541.1L1896.1,542.6L1893.5,544.1L1890.9,545.6L1888.3,547.1L1885.7,548.6L1883.1,550.1L1880.5,551.5L1877.9,553.0L1875.2,554.4L1872.6,555.9L1870.0,557.3L1867.3,558.7L1864.7,560.1L1862.0,561.5L1859.4,562.9L1856.7,564.3L1854.0,565.7L1851.4,567.1L1848.7,568.4L1846.0,569.8L1843.3,571.1L1840.6,572.4L1837.9,573.8L1835.2,575.1L1832.5,576.4L1829.8,577.7L1827.1,579.0L1824.4,580.3L1821.7,581.6L1819.0,582.9L1816.3,584.2L1813.6,585.5L1810.9,586.7L1808.1,588.0L1805.4,589.3L1802.7,590.5L1800.0,591.8L1797.2,593.0L1794.5,594.2L1791.8,595.5L1789.0,596.7L1786.3,597.9L1783.6,599.2L1780.8,600.4L1778.1,601.6L1775.3,602.8L1772.6,604.0L1769.8,605.3L1767.1,606.5L1764.3,607.7L1761.6,608.9L1758.8,610.1L1756.1,611.3L1753.3,612.5L1750.6,613.7L1747.8,614.9L1745.1,616.1L1742.3,617.3L1739.6,618.5L1736.8,619.7L1734.1,620.9L1731.3,622.1L1728.6,623.3L1725.8,624.5L1723.1,625.7L1720.4,626.9L1717.6,628.1L1714.9,629.3L1712.1,630.6L1709.4,631.8L1706.6,633.0L1703.9,634.2L1701.1,635.4L1698.4,636.7L1695.7,637.9L1692.9,639.1L1690.2,640.4L1687.5,641.6L1684.7,642.9L1682.0,644.1L1679.3,645.4L1676.6,646.7L1673.9,647.9L1671.1,649.2L1668.4,650.5L1665.7,651.8L1663.0,653.1L1660.3,654.3L1657.6,655.6L1654.9,657.0L1652.2,658.3L1649.5,659.6L1646.8,660.9L1644.1,662.2L1641.4,663.6L1638.7,664.9L1636.0,666.3L1633.4,667.6L1630.7,668.9L1628.0,670.3L1625.3,671.6L1622.6,673.0L1620.0,674.3L1617.3,675.7L1614.6,677.0L1611.9,678.4L1609.2,679.7L1606.5,681.1L1603.8,682.4L1601.2,683.7L1598.5,685.0L1595.8,686.4L1593.1,687.7L1590.4,689.0L1587.7,690.3L1585.0,691.6L1582.3,692.9L1579.6,694.2L1576.8,695.5L1574.1,696.7L1571.4,698.0L1568.7,699.2L1565.9,700.5L1563.2,701.7L1560.4,702.9L1557.7,704.1L1554.9,705.3L1552.2,706.4L1549.4,707.6L1546.6,708.7L1543.8,709.8L1541.0,710.9L1538.2,712.0L1535.4,713.1L1532.6,714.1L1529.8,715.2L1527.0,716.2L1524.1,717.2L1521.3,718.2L1518.5,719.2L1515.6,720.1L1512.8,721.1L1509.9,722.0L1507.1,722.9L1504.2,723.8L1501.3,724.7L1498.5,725.6L1495.6,726.5L1492.7,727.4L1489.9,728.2L1487.0,729.1L1484.1,729.9L1481.2,730.8L1478.3,731.6L1475.5,732.4L1472.6,733.3L1469.7,734.1L1466.8,734.9L1463.9,735.7L1461.0,736.5L1458.1,737.3L1455.2,738.2L1452.4,739.0L1449.5,739.8L1446.6,740.6L1443.7,741.4L1440.8,742.3L1437.9,743.1L1435.0,743.9L1432.2,744.8L1429.3,745.6L1426.4,746.4L1423.5,747.3L1420.7,748.2L1417.8,749.0L1414.9,749.9L1412.0,750.8L1409.2,751.7L1406.3,752.6L1403.4,753.5L1400.6,754.4L1397.7,755.3L1394.9,756.2L1392.0,757.2L1389.2,758.1L1386.3,759.1L1383.5,760.0L1380.6,761.0L1377.8,762.0L1375.0,762.9L1372.1,763.9L1369.3,764.9L1366.5,765.9L1363.7,767.0L1360.8,768.0L1358.0,769.0L1355.2,770.1L1352.4,771.1L1349.6,772.2L1346.8,773.2L1344.0,774.3L1341.2,775.4L1338.4,776.5L1335.6,777.6L1332.8,778.7L1330.0,779.8L1327.3,781.0L1324.5,782.1L1321.7,783.3L1319.0,784.5L1316.2,785.7L1313.5,786.9L1310.7,788.2L1308.0,789.5L1305.4,790.8L1302.7,792.3L1300.1,793.8L1297.6,795.3L1295.1,797.0L1292.6,798.7L1290.2,800.5L1287.9,802.4L1285.6,804.3L1283.3,806.2L1281.1,808.2L1278.9,810.3L1276.7,812.3L1274.5,814.4L1272.4,816.5L1270.2,818.6L1268.1,820.7L1265.9,822.8L1263.7,824.9L1261.6,826.9L1259.4,829.0L1257.1,831.0L1254.9,833.0L1252.6,834.9L1250.3,836.9L1248.0,838.8L1245.6,840.6L1243.2,842.4L1240.7,844.1L1238.2,845.7L1235.7,847.3L1233.1,848.7L1230.4,850.1L1227.7,851.4L1224.9,852.5L1222.1,853.6L1219.3,854.5L1216.4,855.4L1213.5,856.1L1210.5,856.7L1207.6,857.3L1204.6,857.7L1201.7,858.1L1198.7,858.4L1195.7,858.6L1192.7,858.8L1189.7,858.9L1186.7,858.9L1183.7,858.9L1180.7,858.8L1177.7,858.8L1174.7,858.6L1171.7,858.5L1168.7,858.4L1165.7,858.2L1162.7,858.0L1159.7,857.9L1156.7,857.7L1153.7,857.6L1150.7,857.4L1147.7,857.3L1144.7,857.2L1141.7,857.1L1138.7,857.1L1135.7,857.0L1132.7,857.0L1129.7,857.1L1126.7,857.1L1123.7,857.2L1120.7,857.4L1117.7,857.5L1114.7,857.7L1111.7,857.9L1108.7,858.2L1105.7,858.5L1102.8,858.8L1099.8,859.2L1096.8,859.6L1093.8,860.0L1090.9,860.5L1087.9,861.0L1085.0,861.6L1082.0,862.2L1079.1,862.8L1076.2,863.4L1073.2,864.1L1070.3,864.8L1067.4,865.5L1064.5,866.3L1061.6,867.1L1058.7,867.9L1055.8,868.7L1052.9,869.5L1050.1,870.4L1047.2,871.2L1044.3,872.1L1041.5,873.0L1038.6,873.9L1035.7,874.8L1032.9,875.8L1030.0,876.7L1027.2,877.6L1024.3,878.6L1021.5,879.6L1018.7,880.5L1015.8,881.5L1013.0,882.5L1010.1,883.4L1007.3,884.4L1004.5,885.4L1001.6,886.3L998.8,887.3L995.9,888.2L993.1,889.2L990.2,890.1L987.4,891.1L984.5,892.0L981.7,892.9L978.8,893.8L975.9,894.7L973.1,895.6L970.2,896.5L967.3,897.4L964.5,898.2L961.6,899.1L958.7,899.9L955.8,900.8L952.9,901.6L950.0,902.4L947.1,903.2L944.3,904.0L941.4,904.8L938.5,905.6L935.6,906.3L932.7,907.1L929.8,907.9L926.9,908.6L923.9,909.4L921.0,910.1L918.1,910.9L915.2,911.6L912.3,912.3L909.4,913.0L906.5,913.7L903.6,914.4L900.6,915.2L897.7,915.9L894.8,916.5L891.9,917.2L889.0,917.9L886.0,918.6L883.1,919.3L880.2,920.0L877.3,920.7L874.4,921.3L871.4,922.0L868.5,922.7L865.6,923.4L862.7,924.0L859.7,924.7L856.8,925.4L853.9,926.1L851.0,926.7L848.0,927.4L845.1,928.1L842.2,928.7L839.3,929.4L836.3,930.1L833.4,930.8L830.5,931.5L827.6,932.1L824.6,932.8L821.7,933.5L818.8,934.2L815.9,934.9L813.0,935.6L810.0,936.3L807.1,937.0L804.2,937.7L801.3,938.5L798.4,939.2L795.5,939.9L792.6,940.6L789.7,941.4L786.8,942.1L783.8,942.9L780.9,943.6L778.0,944.4L775.1,945.2L772.2,946.0L769.3,946.7L766.5,947.5L763.6,948.3L760.7,949.2L757.8,950.0L754.9,950.8L752.0,951.6L749.1,952.5L746.3,953.3L743.4,954.2L740.5,955.1L737.6,956.0L734.8,956.8L731.9,957.7L729.1,958.6L726.2,959.5L723.3,960.5L720.5,961.4L717.6,962.3L714.8,963.2L711.9,964.2L709.1,965.1L706.2,966.1L703.4,967.1L700.5,968.0L697.7,969.0L694.9,970.0L692.0,971.0L689.2,971.9L686.4,972.9L683.5,973.9L680.7,975.0L677.9,976.0L675.1,977.0L672.2,978.0L669.4,979.0L666.6,980.1L663.8,981.1L661.0,982.1L658.2,983.2L655.3,984.2L652.5,985.3L649.7,986.4L646.9,987.4L644.1,988.5L641.3,989.5L638.5,990.6L635.7,991.7L632.9,992.8L630.1,993.9L627.3,994.9L624.5,996.0L621.7,997.1L618.9,998.2L616.1,999.3L613.3,1000.4L610.6,1001.5L607.8,1002.6L605.0,1003.7L602.2,1004.9L599.4,1006.0L596.6,1007.1L593.8,1008.2L591.0,1009.3L588.3,1010.4L585.5,1011.6L582.7,1012.7L579.9,1013.8L577.1,1014.9L574.4,1016.1L571.6,1017.2L568.8,1018.3L566.0,1019.5L563.2,1020.6L560.5,1021.7L557.7,1022.9L554.9,1024.0L552.1,1025.1L549.3,1026.3L546.6,1027.4L543.8,1028.6L541.0,1029.7L538.2,1030.8L535.5,1032.0L532.7,1033.1L529.9,1034.3L527.1,1035.4L524.4,1036.5L521.6,1037.7L518.8,1038.8L516.0,1040.0L513.3,1041.1L510.5,1042.3L507.7,1043.5L505.0,1044.6L502.2,1045.8L499.4,1047.0L496.7,1048.2L493.9,1049.3L491.2,1050.5L488.4,1051.7L485.7,1053.0L482.9,1054.2L480.2,1055.4L477.5,1056.6L474.7,1057.9L472.0,1059.1L469.3,1060.4L466.6,1061.7L463.9,1063.0L461.1,1064.3L458.4,1065.6L455.8,1066.9L453.1,1068.2L450.4,1069.6L447.7,1070.9L445.0,1072.3L442.4,1073.7L439.7,1075.1L437.1,1076.5L434.4,1077.9L431.8,1079.3L429.2,1080.8L426.5,1082.3L423.9,1083.8L421.3,1085.2L418.7,1086.8L416.2,1088.3L413.6,1089.8L411.0,1091.4L408.5,1093.0L405.9,1094.5L403.4,1096.1L400.9,1097.8L398.3,1099.4L395.8,1101.1L393.3,1102.7L390.8,1104.4L388.4,1106.1L385.9,1107.8L383.5,1109.5L381.0,1111.3L378.6,1113.0L376.2,1114.8L373.8,1116.6L371.4,1118.4L369.0,1120.2L366.6,1122.1L364.2,1123.9L361.9,1125.8L359.6,1127.7L357.2,1129.6L354.9,1131.5L352.6,1133.4L350.3,1135.4L348.1,1137.4L345.9,1139.4L343.7,1141.5L341.6,1143.6L339.5,1145.7L337.4,1147.8L335.2,1150.0L333.1,1152.1L331.0,1154.2L328.9,1156.3L326.7,1158.4L324.6,1160.6L322.5,1162.7L320.4,1164.8L318.2,1166.9L316.1,1169.0L314.0,1171.1L311.9,1173.3L309.7,1175.4Z" fill="none" stroke="#da5070" stroke-width="6.7" stroke-linejoin="miter" stroke-miterlimit="4" stroke-linecap="butt"/>
<path d="M300.0,1290.0L300.6,1287.1L301.1,1284.1L301.7,1281.2L302.3,1278.2L302.8,1275.3L303.4,1272.3L304.0,1269.4L304.7,1266.5L305.3,1263.6L306.0,1260.6L306.7,1257.7L307.4,1254.8L308.2,1251.9L308.9,1249.0L309.7,1246.1L310.5,1243.2L311.3,1240.3L312.2,1237.5L313.1,1234.6L314.0,1231.7L314.9,1228.9L315.9,1226.0L316.9,1223.2L318.0,1220.4L319.1,1217.6L320.2,1214.9L321.4,1212.1L322.7,1209.4L324.0,1206.7L325.3,1204.0L326.8,1201.4L328.2,1198.8L329.8,1196.2L331.3,1193.7L333.0,1191.1L334.6,1188.7L336.3,1186.2L338.1,1183.8L339.9,1181.3L341.7,1179.0L343.5,1176.6L345.4,1174.3L347.3,1171.9L349.2,1169.6L351.2,1167.4L353.2,1165.1L355.1,1162.9L357.1,1160.6L359.2,1158.4L361.2,1156.2L363.2,1154.0L365.3,1151.8L367.4,1149.7L369.5,1147.5L371.6,1145.4L373.7,1143.2L375.8,1141.1L377.9,1139.0L380.0,1136.9L382.2,1134.8L384.3,1132.7L386.5,1130.6L388.6,1128.5L390.8,1126.5L393.0,1124.4L395.1,1122.3L397.3,1120.3L399.5,1118.2L401.7,1116.1L403.9,1114.1L406.1,1112.0L408.2,1110.0L410.4,1107.9L412.6,1105.9L414.8,1103.9L417.0,1101.8L419.2,1099.8L421.4,1097.7L423.6,1095.7L425.8,1093.6L427.9,1091.6L430.1,1089.5L432.3,1087.4L434.5,1085.4L436.7,1083.3L438.9,1081.3L441.0,1079.2L443.2,1077.1L445.4,1075.1L447.6,1073.0L449.7,1071.0L451.9,1068.9L454.1,1066.8L456.2,1064.7L458.4,1062.7L460.6,1060.6L462.7,1058.5L464.9,1056.5L467.1,1054.4L469.2,1052.3L471.4,1050.2L473.6,1048.2L475.7,1046.1L477.9,1044.0L480.0,1041.9L482.2,1039.8L484.4,1037.8L486.5,1035.7L488.7,1033.6L490.8,1031.5L493.0,1029.4L495.1,1027.3L497.3,1025.2L499.4,1023.2L501.6,1021.1L503.8,1019.0L505.9,1016.9L508.1,1014.8L510.2,1012.7L512.4,1010.6L514.5,1008.5L516.6,1006.4L518.8,1004.3L520.9,1002.3L523.1,1000.2L525.2,998.1L527.4,996.0L529.5,993.9L531.7,991.8L533.8,989.7L535.9,987.6L538.1,985.4L540.2,983.3L542.3,981.2L544.4,979.1L546.5,976.9L548.6,974.8L550.7,972.7L552.8,970.5L554.9,968.3L556.9,966.1L559.0,964.0L561.0,961.7L563.0,959.5L565.0,957.3L567.0,955.1L569.0,952.8L571.0,950.6L572.9,948.3L574.8,946.0L576.8,943.7L578.7,941.4L580.5,939.0L582.4,936.7L584.3,934.3L586.1,932.0L587.9,929.6L589.7,927.2L591.5,924.8L593.3,922.4L595.1,919.9L596.8,917.5L598.6,915.1L600.3,912.6L602.0,910.2L603.8,907.7L605.5,905.3L607.2,902.8L608.9,900.3L610.6,897.9L612.3,895.4L614.0,892.9L615.7,890.5L617.4,888.0L619.1,885.5L620.8,883.1L622.6,880.6L624.3,878.2L626.0,875.7L627.7,873.3L629.5,870.8L631.2,868.4L633.0,866.0L634.8,863.6L636.6,861.2L638.4,858.8L640.2,856.4L642.1,854.1L644.0,851.7L645.8,849.4L647.7,847.1L649.7,844.8L651.6,842.5L653.6,840.2L655.6,838.0L657.6,835.8L659.7,833.6L661.8,831.5L663.9,829.3L666.0,827.2L668.2,825.1L670.4,823.1L672.6,821.1L674.8,819.1L677.1,817.1L679.3,815.2L681.7,813.2L684.0,811.4L686.3,809.5L688.7,807.7L691.1,805.8L693.5,804.0L695.9,802.3L698.3,800.5L700.8,798.8L703.2,797.1L705.7,795.4L708.2,793.7L710.7,792.0L713.2,790.3L715.7,788.7L718.2,787.0L720.7,785.4L723.2,783.8L725.8,782.2L728.3,780.6L730.8,779.0L733.4,777.5L736.0,775.9L738.5,774.3L741.1,772.8L743.7,771.3L746.2,769.7L748.8,768.2L751.4,766.7L754.0,765.2L756.6,763.7L759.2,762.2L761.8,760.7L764.4,759.2L767.0,757.8L769.7,756.3L772.3,754.9L775.0,753.5L777.6,752.1L780.3,750.7L783.0,749.4L785.7,748.1L788.4,746.8L791.1,745.6L793.9,744.4L796.6,743.3L799.4,742.2L802.2,741.1L805.1,740.2L807.9,739.2L810.8,738.4L813.7,737.6L816.6,736.9L819.5,736.3L822.5,735.7L825.4,735.2L828.4,734.8L831.4,734.4L834.4,734.1L837.3,733.9L840.3,733.7L843.3,733.6L846.3,733.5L849.3,733.4L852.3,733.4L855.3,733.4L858.3,733.4L861.3,733.4L864.3,733.4L867.3,733.4L870.3,733.4L873.3,733.4L876.3,733.3L879.3,733.3L882.3,733.3L885.3,733.2L888.3,733.1L891.3,733.0L894.3,732.9L897.3,732.7L900.3,732.6L903.3,732.4L906.3,732.2L909.2,732.0L912.2,731.7L915.2,731.5L918.2,731.2L921.2,730.9L924.2,730.6L927.2,730.3L930.1,730.0L933.1,729.6L936.1,729.3L939.1,728.9L942.0,728.5L945.0,728.1L948.0,727.6L950.9,727.2L953.9,726.7L956.9,726.3L959.8,725.8L962.8,725.3L965.7,724.7L968.7,724.2L971.6,723.7L974.6,723.1L977.5,722.5L980.5,721.9L983.4,721.3L986.3,720.7L989.3,720.1L992.2,719.5L995.1,718.8L998.0,718.2L1001.0,717.5L1003.9,716.8L1006.8,716.1L1009.7,715.4L1012.6,714.7L1015.6,714.0L1018.5,713.3L1021.4,712.6L1024.3,711.8L1027.2,711.1L1030.1,710.4L1033.0,709.6L1035.9,708.9L1038.8,708.1L1041.7,707.4L1044.6,706.6L1047.5,705.9L1050.4,705.1L1053.3,704.3L1056.2,703.6L1059.1,702.8L1062.0,702.1L1064.9,701.3L1067.8,700.6L1070.7,699.8L1073.6,699.1L1076.5,698.3L1079.4,697.6L1082.3,696.8L1085.3,696.1L1088.2,695.4L1091.1,694.7L1094.0,694.0L1096.9,693.3L1099.8,692.6L1102.7,691.9L1105.7,691.2L1108.6,690.5L1111.5,689.8L1114.4,689.2L1117.3,688.5L1120.2,687.8L1123.2,687.1L1126.1,686.4L1129.0,685.7L1131.9,684.9L1134.8,684.2L1137.7,683.4L1140.6,682.6L1143.5,681.8L1146.4,681.0L1149.2,680.1L1152.1,679.2L1155.0,678.3L1157.8,677.4L1160.6,676.4L1163.5,675.4L1166.3,674.4L1169.1,673.3L1171.8,672.1L1174.6,671.0L1177.4,669.8L1180.1,668.6L1182.8,667.3L1185.5,666.0L1188.2,664.6L1190.8,663.2L1193.4,661.7L1196.0,660.3L1198.6,658.7L1201.2,657.2L1203.7,655.5L1206.2,653.9L1208.7,652.2L1211.1,650.5L1213.5,648.7L1215.9,646.9L1218.3,645.0L1220.6,643.2L1222.9,641.2L1225.2,639.3L1227.4,637.3L1229.6,635.3L1231.8,633.2L1234.0,631.1L1236.1,629.0L1238.2,626.8L1240.2,624.6L1242.2,622.4L1244.2,620.2L1246.2,617.9L1248.1,615.6L1250.1,613.3L1252.0,611.1L1253.9,608.8L1255.9,606.5L1257.8,604.2L1259.8,601.9L1261.8,599.7L1263.8,597.5L1265.9,595.4L1268.1,593.3L1270.3,591.3L1272.6,589.3L1275.0,587.6L1277.5,585.9L1280.1,584.4L1282.7,583.1L1285.5,582.0L1288.3,581.0L1291.2,580.3L1294.1,579.7L1297.1,579.3L1300.1,579.1L1303.1,579.1L1306.1,579.2L1309.1,579.3L1312.0,579.6L1315.0,580.0L1318.0,580.4L1321.0,580.8L1323.9,581.2L1326.9,581.7L1329.9,582.1L1332.8,582.4L1335.8,582.8L1338.8,583.1L1341.8,583.3L1344.8,583.6L1347.8,583.7L1350.8,583.8L1353.8,583.9L1356.8,583.9L1359.8,583.9L1362.8,583.8L1365.8,583.7L1368.7,583.5L1371.7,583.3L1374.7,583.0L1377.7,582.6L1380.7,582.2L1383.6,581.8L1386.6,581.3L1389.5,580.7L1392.5,580.1L1395.4,579.5L1398.3,578.8L1401.2,578.1L1404.1,577.3L1407.0,576.5L1409.9,575.7L1412.8,574.9L1415.7,574.0L1418.5,573.2L1421.4,572.3L1424.3,571.4L1427.1,570.6L1430.0,569.7L1432.9,568.8L1435.7,567.9L1438.6,567.1L1441.5,566.2L1444.4,565.4L1447.2,564.6L1450.1,563.8L1453.0,563.0L1455.9,562.2L1458.8,561.4L1461.7,560.6L1464.6,559.9L1467.5,559.1L1470.4,558.3L1473.3,557.6L1476.2,556.9L1479.1,556.1L1482.0,555.4L1484.9,554.6L1487.8,553.9L1490.7,553.2L1493.7,552.4L1496.6,551.7L1499.5,550.9L1502.4,550.1L1505.2,549.3L1508.1,548.5L1511.0,547.7L1513.9,546.8L1516.7,545.9L1519.6,544.9L1522.4,543.8L1525.1,542.7L1527.9,541.5L1530.6,540.3L1533.3,538.9L1535.9,537.5L1538.5,536.0L1541.0,534.4L1543.5,532.7L1545.9,530.9L1548.3,529.1L1550.6,527.2L1552.9,525.3L1555.1,523.2L1557.3,521.1L1559.4,519.0L1561.4,516.8L1563.4,514.6L1565.3,512.3L1567.2,509.9L1569.0,507.5L1570.8,505.1L1572.5,502.7L1574.2,500.2L1575.8,497.7L1577.4,495.1L1579.0,492.6L1580.5,490.0L1581.9,487.4L1583.4,484.8L1584.8,482.1L1586.2,479.5L1587.5,476.8L1588.9,474.1L1590.2,471.4L1591.5,468.7L1592.8,466.0L1594.1,463.3L1595.4,460.6L1596.6,457.9L1597.9,455.1L1599.2,452.4L1600.4,449.7L1601.7,447.0L1603.0,444.3L1604.3,441.6L1605.6,438.9L1607.0,436.2L1608.3,433.5L1609.7,430.9L1611.1,428.2L1612.5,425.6L1614.0,423.0L1615.5,420.4L1617.0,417.8L1618.6,415.3L1620.3,412.8L1622.0,410.3L1623.7,407.9L1625.5,405.5L1627.4,403.1L1629.3,400.8L1631.3,398.6L1633.4,396.5L1635.6,394.4L1637.8,392.4L1640.2,390.6L1642.6,388.8L1645.1,387.2L1647.7,385.7L1650.4,384.4L1653.2,383.3L1656.0,382.3L1658.9,381.6L1661.8,381.1L1664.8,380.8L1667.8,380.6L1670.8,380.7L1673.7,381.0L1676.7,381.4L1679.6,382.0L1682.5,382.7L1685.4,383.6L1688.3,384.5L1691.1,385.5L1693.9,386.6L1696.6,387.7L1699.4,388.9L1702.2,390.1L1704.9,391.3L1707.6,392.5L1710.3,393.8L1713.1,395.0L1715.8,396.2L1718.6,397.4L1721.3,398.6L1724.1,399.7L1726.9,400.8L1729.7,401.8L1732.6,402.7L1735.5,403.5L1738.4,404.3L1741.3,405.0L1744.2,405.6L1747.2,406.2L1750.1,406.6L1753.1,407.0L1756.1,407.4L1759.0,407.6L1762.0,407.8L1765.0,408.0L1768.0,408.1L1771.0,408.1L1774.0,408.1L1777.0,408.0L1780.0,407.9L1783.0,407.7L1786.0,407.5L1789.0,407.3L1792.0,407.0L1795.0,406.7L1797.9,406.3L1800.9,405.9L1803.9,405.5L1806.8,405.1L1809.8,404.6L1812.7,404.1L1815.7,403.5L1818.6,402.9L1821.6,402.3L1824.5,401.7L1827.4,401.0L1830.3,400.4L1833.3,399.7L1836.2,398.9L1839.1,398.2L1842.0,397.4L1844.9,396.6L1847.7,395.8L1850.6,394.9L1853.5,394.1L1856.4,393.2L1859.2,392.3L1862.1,391.4L1864.9,390.5L1867.8,389.6L1870.6,388.6L1873.5,387.7L1876.3,386.7L1879.1,385.7L1882.0,384.7L1884.8,383.7L1887.6,382.7L1890.4,381.6L1893.2,380.6L1896.0,379.5L1898.8,378.5L1901.6,377.4L1904.4,376.3L1907.2,375.2L1910.0,374.1L1912.8,373.0L1915.6,371.9L1918.4,370.7L1921.1,369.6L1923.9,368.4L1926.7,367.3L1929.4,366.1L1932.2,364.9L1934.9,363.7L1937.7,362.5L1940.4,361.3L1943.2,360.1L1945.9,358.9L1948.6,357.6L1951.3,356.4L1954.1,355.1L1956.8,353.8L1959.5,352.5L1962.2,351.2L1964.9,349.9L1967.6,348.6L1970.2,347.2L1972.9,345.9L1975.6,344.5L1978.3,343.2L1980.9,341.8L1983.6,340.4L1986.2,339.0L1988.9,337.6L1991.5,336.1L1994.1,334.7L1996.7,333.2L1999.3,331.7L2002.0,330.3L2004.6,328.8L2007.1,327.3L2009.7,325.7L2012.3,324.2L2014.9,322.7L2017.4,321.1L2020.0,319.6L2022.6,318.0L2025.1,316.4L2027.6,314.8L2030.2,313.2L2032.7,311.6L2035.2,309.9L2037.7,308.3L2040.2,306.6L2042.7,305.0L2045.2,303.3L2047.7,301.6L2050.2,299.9L2052.6,298.3L2055.1,296.5L2057.6,294.8L2060.0,293.1L2062.5,291.4L2064.9,289.7L2067.4,287.9L2069.8,286.2L2072.2,284.4L2074.6,282.6L2077.0,280.8L2079.4,279.0L2081.8,277.2L2084.1,275.3L2086.5,273.4L2088.8,271.5L2091.1,269.6L2093.3,267.6L2095.5,265.5L2097.7,263.5L2099.7,261.3L2101.7,259.1L2103.6,256.7L2105.4,254.3L2107.0,251.8L2108.5,249.2L2110.0,246.6L2111.3,243.9L2112.6,241.2L2113.7,238.5L2114.9,235.7L2115.9,232.9L2116.9,230.1L2117.9,227.2L2118.8,224.4L2119.7,221.5L2120.6,218.6L2121.4,215.7L2122.2,212.9L2122.9,210.0L2123.7,207.0L2124.4,204.1L2125.0,201.2L2127.8,202.0L2129.3,204.2L2129.8,207.1L2129.9,210.0L2129.9,213.0L2129.7,215.9L2129.4,218.9L2129.2,221.9L2129.0,224.9L2128.7,227.9L2128.5,230.9L2128.3,233.9L2128.1,236.9L2127.9,239.9L2127.6,242.9L2127.3,245.8L2127.0,248.8L2126.7,251.8L2126.3,254.8L2126.0,257.8L2125.6,260.7L2125.2,263.7L2124.8,266.7L2124.3,269.7L2123.8,272.6L2123.2,275.6L2122.6,278.5L2122.0,281.4L2121.3,284.4L2120.6,287.3L2119.9,290.2L2119.2,293.1L2118.5,296.0L2117.7,298.9L2116.9,301.8L2116.1,304.7L2115.2,307.5L2114.3,310.4L2113.3,313.2L2112.2,316.0L2111.0,318.7L2109.7,321.5L2108.4,324.2L2107.2,326.9L2105.9,329.6L2104.7,332.4L2103.4,335.1L2102.2,337.8L2100.9,340.5L2099.6,343.3L2098.4,346.0L2097.1,348.7L2095.8,351.4L2094.5,354.1L2093.2,356.8L2091.8,359.5L2090.4,362.1L2089.1,364.8L2087.6,367.4L2086.2,370.1L2084.8,372.7L2083.3,375.3L2081.8,377.9L2080.2,380.5L2078.7,383.0L2077.1,385.6L2075.5,388.1L2073.8,390.6L2072.1,393.1L2070.4,395.5L2068.6,398.0L2066.8,400.4L2065.0,402.7L2063.1,405.1L2061.2,407.4L2059.3,409.7L2057.3,411.9L2055.3,414.2L2053.2,416.3L2051.1,418.5L2049.0,420.6L2046.9,422.7L2044.7,424.8L2042.5,426.8L2040.3,428.8L2038.0,430.8L2035.8,432.8L2033.5,434.7L2031.2,436.7L2028.9,438.6L2026.6,440.5L2024.2,442.4L2021.9,444.3L2019.6,446.1L2017.2,448.0L2014.8,449.9L2012.5,451.7L2010.1,453.5L2007.7,455.4L2005.3,457.2L2002.9,459.0L2000.5,460.8L1998.1,462.6L1995.7,464.3L1993.3,466.1L1990.9,467.9L1988.4,469.6L1986.0,471.4L1983.5,473.1L1981.1,474.8L1978.6,476.5L1976.1,478.2L1973.7,479.9L1971.2,481.6L1968.7,483.3L1966.2,485.0L1963.7,486.6L1961.2,488.3L1958.7,489.9L1956.2,491.5L1953.6,493.1L1951.1,494.7L1948.6,496.3L1946.0,497.9L1943.5,499.5L1940.9,501.1L1938.3,502.6L1935.8,504.2L1933.2,505.7L1930.6,507.2L1928.0,508.8L1925.4,510.3L1922.8,511.8L1920.2,513.3L1917.6,514.7L1915.0,516.2L1912.4,517.7L1909.8,519.1L1907.1,520.6L1904.5,522.0L1901.9,523.4L1899.2,524.9L1896.6,526.3L1893.9,527.7L1891.3,529.1L1888.6,530.5L1885.9,531.8L1883.3,533.2L1880.6,534.6L1877.9,535.9L1875.3,537.3L1872.6,538.6L1869.9,540.0L1867.2,541.3L1864.5,542.6L1861.8,543.9L1859.1,545.3L1856.4,546.6L1853.7,547.9L1851.0,549.2L1848.3,550.5L1845.6,551.8L1842.9,553.0L1840.2,554.3L1837.5,555.6L1834.7,556.9L1832.0,558.1L1829.3,559.4L1826.6,560.7L1823.9,561.9L1821.1,563.2L1818.4,564.5L1815.7,565.7L1813.0,567.0L1810.2,568.2L1807.5,569.5L1804.8,570.7L1802.1,572.0L1799.3,573.2L1796.6,574.5L1793.9,575.7L1791.2,577.0L1788.4,578.2L1785.7,579.5L1783.0,580.7L1780.2,582.0L1777.5,583.2L1774.8,584.5L1772.1,585.7L1769.4,587.0L1766.6,588.3L1763.9,589.5L1761.2,590.8L1758.5,592.1L1755.8,593.3L1753.0,594.6L1750.3,595.9L1747.6,597.2L1744.9,598.5L1742.2,599.7L1739.5,601.0L1736.8,602.3L1734.1,603.6L1731.4,604.9L1728.7,606.2L1726.0,607.5L1723.3,608.9L1720.6,610.2L1717.9,611.5L1715.2,612.8L1712.5,614.1L1709.8,615.4L1707.1,616.7L1704.4,618.1L1701.7,619.4L1699.0,620.7L1696.3,622.0L1693.6,623.3L1690.9,624.7L1688.2,626.0L1685.5,627.3L1682.9,628.6L1680.2,629.9L1677.5,631.3L1674.8,632.6L1672.1,633.9L1669.4,635.2L1666.7,636.5L1664.0,637.9L1661.3,639.2L1658.6,640.5L1655.9,641.8L1653.2,643.1L1650.5,644.4L1647.8,645.7L1645.1,647.0L1642.4,648.3L1639.7,649.6L1637.0,650.9L1634.3,652.2L1631.6,653.5L1628.9,654.8L1626.1,656.1L1623.4,657.3L1620.7,658.6L1618.0,659.9L1615.3,661.1L1612.5,662.4L1609.8,663.7L1607.1,664.9L1604.4,666.2L1601.6,667.4L1598.9,668.6L1596.2,669.9L1593.4,671.1L1590.7,672.3L1587.9,673.5L1585.2,674.7L1582.4,675.9L1579.7,677.1L1576.9,678.3L1574.2,679.5L1571.4,680.7L1568.7,681.8L1565.9,683.0L1563.1,684.1L1560.3,685.3L1557.6,686.4L1554.8,687.5L1552.0,688.7L1549.2,689.8L1546.4,690.9L1543.6,692.0L1540.9,693.1L1538.1,694.2L1535.3,695.3L1532.5,696.3L1529.7,697.4L1526.9,698.5L1524.1,699.5L1521.2,700.6L1518.4,701.6L1515.6,702.7L1512.8,703.7L1510.0,704.8L1507.2,705.8L1504.4,706.8L1501.5,707.8L1498.7,708.8L1495.9,709.8L1493.1,710.9L1490.2,711.9L1487.4,712.8L1484.6,713.8L1481.7,714.8L1478.9,715.8L1476.1,716.8L1473.2,717.8L1470.4,718.7L1467.5,719.7L1464.7,720.7L1461.9,721.6L1459.0,722.6L1456.2,723.5L1453.3,724.5L1450.5,725.4L1447.6,726.4L1444.8,727.3L1441.9,728.3L1439.1,729.2L1436.2,730.1L1433.4,731.1L1430.5,732.0L1427.7,732.9L1424.8,733.9L1422.0,734.8L1419.1,735.7L1416.3,736.6L1413.4,737.6L1410.6,738.5L1407.7,739.4L1404.8,740.3L1402.0,741.2L1399.1,742.2L1396.3,743.1L1393.4,744.0L1390.6,744.9L1387.7,745.8L1384.9,746.8L1382.0,747.7L1379.2,748.6L1376.3,749.6L1373.5,750.5L1370.6,751.5L1367.8,752.5L1365.0,753.5L1362.1,754.5L1359.3,755.5L1356.5,756.5L1353.7,757.6L1350.9,758.7L1348.1,759.8L1345.3,760.9L1342.6,762.0L1339.8,763.2L1337.0,764.4L1334.3,765.7L1331.6,766.9L1328.9,768.2L1326.2,769.6L1323.5,770.9L1320.9,772.3L1318.2,773.8L1315.6,775.2L1313.0,776.7L1310.5,778.3L1307.9,779.8L1305.4,781.4L1302.9,783.1L1300.4,784.8L1297.9,786.5L1295.5,788.2L1293.0,790.0L1290.6,791.7L1288.2,793.6L1285.9,795.4L1283.5,797.2L1281.2,799.1L1278.8,801.0L1276.5,802.9L1274.2,804.8L1271.9,806.8L1269.6,808.7L1267.3,810.7L1265.1,812.6L1262.8,814.6L1260.5,816.6L1258.3,818.5L1256.0,820.5L1253.8,822.5L1251.5,824.5L1249.3,826.4L1247.0,828.4L1244.7,830.4L1242.4,832.3L1240.1,834.2L1237.8,836.1L1235.4,837.9L1233.0,839.7L1230.6,841.4L1228.1,843.1L1225.5,844.7L1223.0,846.3L1220.3,847.7L1217.6,849.0L1214.9,850.2L1212.1,851.2L1209.2,852.0L1206.3,852.6L1203.3,853.0L1200.3,853.3L1197.3,853.4L1194.4,853.3L1191.4,853.1L1188.4,852.8L1185.4,852.4L1182.5,851.9L1179.5,851.4L1176.5,850.9L1173.6,850.3L1170.6,849.8L1167.7,849.3L1164.7,848.8L1161.8,848.3L1158.8,847.9L1155.8,847.5L1152.8,847.2L1149.9,847.0L1146.9,846.8L1143.9,846.6L1140.9,846.6L1137.9,846.5L1134.9,846.6L1131.9,846.6L1128.9,846.8L1125.9,846.9L1122.9,847.1L1119.9,847.4L1116.9,847.7L1113.9,848.0L1111.0,848.4L1108.0,848.8L1105.0,849.2L1102.1,849.7L1099.1,850.2L1096.1,850.7L1093.2,851.3L1090.3,851.9L1087.3,852.5L1084.4,853.2L1081.5,853.8L1078.5,854.5L1075.6,855.2L1072.7,855.9L1069.8,856.6L1066.9,857.4L1064.0,858.2L1061.1,858.9L1058.2,859.7L1055.3,860.5L1052.4,861.3L1049.5,862.1L1046.7,863.0L1043.8,863.8L1040.9,864.6L1038.0,865.4L1035.1,866.3L1032.2,867.1L1029.4,868.0L1026.5,868.8L1023.6,869.6L1020.7,870.4L1017.8,871.3L1014.9,872.1L1012.1,872.9L1009.2,873.7L1006.3,874.6L1003.4,875.4L1000.5,876.2L997.6,877.0L994.7,877.8L991.8,878.6L989.0,879.4L986.1,880.2L983.2,881.0L980.3,881.8L977.4,882.6L974.5,883.4L971.6,884.2L968.7,885.0L965.8,885.8L962.9,886.6L960.0,887.4L957.1,888.1L954.2,888.9L951.3,889.7L948.5,890.5L945.6,891.3L942.7,892.1L939.8,892.9L936.9,893.7L934.0,894.4L931.1,895.2L928.2,896.0L925.3,896.8L922.4,897.6L919.5,898.4L916.6,899.2L913.7,900.0L910.8,900.8L907.9,901.6L905.0,902.4L902.2,903.2L899.3,904.0L896.4,904.8L893.5,905.6L890.6,906.4L887.7,907.2L884.8,908.0L881.9,908.8L879.0,909.7L876.2,910.5L873.3,911.3L870.4,912.1L867.5,913.0L864.6,913.8L861.7,914.6L858.9,915.5L856.0,916.3L853.1,917.2L850.2,918.0L847.4,918.9L844.5,919.8L841.6,920.6L838.8,921.5L835.9,922.4L833.0,923.3L830.2,924.2L827.3,925.1L824.5,926.0L821.6,927.0L818.8,927.9L815.9,928.9L813.1,929.9L810.3,930.9L807.4,931.9L804.6,933.0L801.8,934.0L799.0,935.1L796.2,936.2L793.5,937.4L790.7,938.5L788.0,939.7L785.2,940.9L782.5,942.2L779.8,943.4L777.1,944.7L774.4,946.1L771.7,947.4L769.0,948.8L766.4,950.2L763.7,951.6L761.1,953.1L758.5,954.6L755.9,956.1L753.4,957.7L750.8,959.3L748.3,960.9L745.8,962.6L743.3,964.2L740.9,965.9L738.4,967.7L736.0,969.4L733.6,971.2L731.2,973.0L728.8,974.9L726.5,976.8L724.1,978.7L721.8,980.6L719.6,982.5L717.3,984.5L715.1,986.5L712.8,988.5L710.7,990.6L708.5,992.6L706.3,994.7L704.2,996.8L702.1,998.9L700.0,1001.1L697.9,1003.3L695.9,1005.5L693.8,1007.7L691.8,1009.9L689.8,1012.1L687.9,1014.4L685.9,1016.7L684.0,1019.0L682.1,1021.3L680.2,1023.6L678.3,1025.9L676.4,1028.3L674.6,1030.7L672.7,1033.0L670.9,1035.4L669.1,1037.8L667.3,1040.2L665.6,1042.7L664.0,1045.2L662.4,1047.7L660.9,1050.3L659.4,1052.9L657.8,1055.5L656.4,1058.1L654.9,1060.7L653.4,1063.3L651.9,1065.9L650.4,1068.5L649.0,1071.2L647.5,1073.8L646.0,1076.4L644.5,1079.0L643.1,1081.6L641.7,1084.3L640.4,1087.0L639.2,1089.7L638.0,1092.5L636.9,1095.2L635.8,1098.0L634.7,1100.8L633.7,1103.7L632.7,1106.5L631.8,1109.4L630.9,1112.2L630.0,1115.1L629.1,1117.9L628.3,1120.8L627.4,1123.7L626.6,1126.6L625.8,1129.5L625.1,1132.4L624.3,1135.3L623.6,1138.2L623.0,1141.1L622.3,1144.1L621.6,1147.0L621.0,1149.9L620.3,1152.8L619.6,1155.8L619.0,1158.7L618.3,1161.6L617.6,1164.5L616.9,1167.4L616.2,1170.4L615.5,1173.3L614.7,1176.2L614.0,1179.1L613.2,1182.0L612.4,1184.9L611.5,1187.7L610.6,1190.6L609.6,1193.4L608.6,1196.2L607.5,1199.0L606.3,1201.8L605.1,1204.5L603.8,1207.2L602.4,1209.9L600.9,1212.5L599.4,1215.1L597.8,1217.6L596.1,1220.1L594.3,1222.5L592.4,1224.8L590.4,1227.0L588.2,1229.0L585.9,1230.9L583.5,1232.7L581.0,1234.2L578.3,1235.6L575.6,1236.8L572.8,1237.8L569.9,1238.6L566.9,1239.1L564.0,1239.4L561.0,1239.3L558.1,1238.9L555.2,1238.3L552.2,1237.7L549.3,1237.0L546.4,1236.4L543.4,1235.7L540.5,1235.0L537.6,1234.4L534.7,1233.7L531.8,1233.0L528.8,1232.3L525.9,1231.6L523.0,1230.9L520.1,1230.2L517.2,1229.5L514.2,1228.9L511.3,1228.2L508.4,1227.5L505.5,1226.9L502.5,1226.3L499.6,1225.6L496.7,1225.0L493.7,1224.4L490.8,1223.9L487.8,1223.3L484.9,1222.8L481.9,1222.3L479.0,1221.8L476.0,1221.3L473.0,1220.9L470.0,1220.5L467.1,1220.1L464.1,1219.8L461.1,1219.5L458.1,1219.3L455.1,1219.0L452.1,1218.9L449.1,1218.7L446.1,1218.6L443.1,1218.6L440.1,1218.6L437.1,1218.7L434.1,1218.8L431.1,1218.9L428.2,1219.1L425.2,1219.3L422.2,1219.6L419.2,1219.9L416.2,1220.3L413.2,1220.7L410.3,1221.2L407.3,1221.7L404.4,1222.2L401.4,1222.8L398.5,1223.5L395.6,1224.1L392.7,1224.8L389.8,1225.6L386.9,1226.4L384.0,1227.2L381.1,1228.1L378.3,1229.0L375.4,1229.9L372.6,1230.9L369.7,1231.9L366.9,1232.9L364.1,1234.0L361.3,1235.1L358.6,1236.3L355.8,1237.4L353.1,1238.6L350.3,1239.9L347.6,1241.1L344.9,1242.4L342.2,1243.7L339.5,1245.1L336.8,1246.4L334.2,1247.9L331.6,1249.4L329.1,1250.9L326.5,1252.6L324.0,1254.2L321.6,1255.9L319.1,1257.6L316.7,1259.4L314.3,1261.3L312.1,1263.2L310.0,1265.3L308.2,1267.7L306.6,1270.2L305.3,1272.8L304.1,1275.6L303.1,1278.4L302.2,1281.3L301.5,1284.2L300.7,1287.1Z" fill="none" stroke="#038003" stroke-width="6.7" stroke-linejoin="miter" stroke-miterlimit="4" stroke-linecap="butt"/>
<g stroke="#111111" fill="none">
<path d="M262,31 V1364.9" stroke-width="3.6"/>
<path d="M262,1355.4 H2164.8" stroke-width="3.8"/>
<path d="M241.5,48.8 H262M251.5,76.6 H262M251.5,104.9 H262M251.5,136.1 H262M251.5,164.2 H262M241.5,192.1 H262M251.5,219.9 H262M251.5,251.6 H262M251.5,279.7 H262M251.5,310.9 H262M241.5,339.2 H262M251.5,367.2 H262M251.5,398.5 H262M251.5,426.8 H262M251.5,458.0 H262M241.5,485.7 H262M251.5,514.4 H262M251.5,545.6 H262M251.5,573.5 H262M251.5,605.0 H262M241.5,633.3 H262M251.5,661.1 H262M251.5,692.8 H262M251.5,720.4 H262M251.5,752.1 H262M241.5,779.9 H262M251.5,808.0 H262M251.5,839.7 H262M251.5,867.5 H262M251.5,899.2 H262M241.5,926.8 H262M251.5,955.2 H262M251.5,986.4 H262M251.5,1014.7 H262M251.5,1046.1 H262M241.5,1074.0 H262M251.5,1101.8 H262M251.5,1133.5 H262M251.5,1161.6 H262M251.5,1193.3 H262M241.5,1221.1 H262M251.5,1249.4 H262M251.5,1277.3 H262M251.5,1308.7 H262M251.5,1336.6 H262" stroke-width="2.8"/>
<path d="M299.1,1355.4 V1366.5M441.5,1355.4 V1366.5M582.3,1355.4 V1366.5M722.4,1355.4 V1376.5M862.5,1355.4 V1366.5M1002.9,1355.4 V1366.5M1143.5,1355.4 V1366.5M1283.1,1355.4 V1366.5M1423.9,1355.4 V1376.5M1564.0,1355.4 V1366.5M1703.9,1355.4 V1366.5M1847.0,1355.4 V1366.5M1986.9,1355.4 V1366.5M2127.5,1355.4 V1376.5" stroke-width="2.8"/>
</g>
<g font-family="'Liberation Serif', 'DejaVu Serif', serif" fill="#1c1c1c">
<text x="131.7" y="62.5" font-size="53">0.01</text>
<text x="110.9" y="206.3" font-size="53">0.008</text>
<text x="110.9" y="353.4" font-size="53">0.006</text>
<text x="110.9" y="500.3" font-size="53">0.004</text>
<text x="110.9" y="647.5" font-size="53">0.002</text>
<text x="185.4" y="794.1" font-size="53">0</text>
<text x="97.1" y="941.7" font-size="53">-0.002</text>
<text x="97.1" y="1088.2" font-size="53">-0.004</text>
<text x="97.1" y="1235.3" font-size="53">-0.006</text>
<text x="251.0" y="1434.6" font-size="53">-0.3</text>
<text x="395.5" y="1434.6" font-size="53">-0.2</text>
<text x="540.2" y="1434.6" font-size="53">-0.1</text>
<text x="705.6" y="1434.6" font-size="53">0</text>
<text x="829.2" y="1434.6" font-size="53">0.1</text>
<text x="973.4" y="1434.6" font-size="53">0.2</text>
<text x="1107.4" y="1434.6" font-size="53">0.3</text>
<text x="1250.9" y="1434.6" font-size="53">0.4</text>
<text x="1390.6" y="1434.6" font-size="53">0.5</text>
<text x="1523.8" y="1434.6" font-size="53">0.6</text>
<text x="1674.9" y="1434.6" font-size="53">0.7</text>
<text x="1818.2" y="1434.6" font-size="53">0.8</text>
<text x="1958.6" y="1434.6" font-size="53">0.9</text>
<text x="2114.2" y="1434.6" font-size="53">1</text>
<text x="1059.2" y="1510.2" font-size="87.6" fill="#000">Ewe/V</text>
<text transform="translate(87,720) rotate(-90) scale(1,1.065)" font-size="88.2" fill="#111">I/mA</text>
<rect x="345.3" y="90.8" width="93.4" height="7.2" fill="#2e7ce0"/>
<text x="469.6" y="118.6" font-size="69.3" fill="#000">C/SPE</text>
<rect x="345.3" y="179.1" width="93.4" height="7.2" fill="#d94f6e"/>
<text x="469.6" y="206.3" font-size="68.8" fill="#000">GO/C/SPE</text>
<rect x="345.3" y="267.0" width="93.4" height="7.2" fill="#0a6e38"/>
<text x="469.6" y="285.0" font-size="68.2" fill="#000">PHEN/GO/C/SPE</text>
<text x="1526" y="157.8" font-size="53.6" fill="#000">0.688 V</text>
</g>
<path d="M1616.4,196.5 L1643.4,330" stroke="#000" stroke-width="2.2" fill="none"/>
<path d="M1647.6,343.2 L1632,324.5 L1643.3,328.6 L1655.6,319.6 Z" fill="#000"/>
</svg>
</body>
</html>
